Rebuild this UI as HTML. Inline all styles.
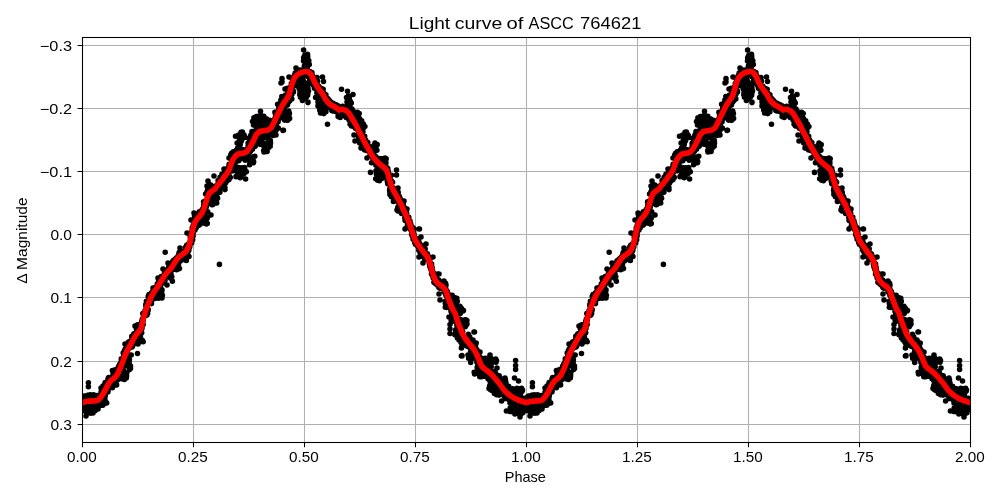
<!DOCTYPE html>
<html><head><meta charset="utf-8"><title>Light curve of ASCC 764621</title>
<style>
html,body{margin:0;padding:0;background:#fff;}
body{width:1000px;height:500px;overflow:hidden;}
svg{display:block;}
text{font-family:"Liberation Sans",sans-serif;fill:#000;}
#txt{opacity:0.999;}
</style></head><body>
<svg width="1000" height="500" viewBox="0 0 1000 500">
<rect width="1000" height="500" fill="#fff"/>
<defs><clipPath id="ax"><rect x="82.5" y="37.5" width="888.0" height="405.0"/></clipPath></defs>
<path d="M82.5 37.5V442.5M193.5 37.5V442.5M304.5 37.5V442.5M415.5 37.5V442.5M526.5 37.5V442.5M637.5 37.5V442.5M748.5 37.5V442.5M859.5 37.5V442.5M970.5 37.5V442.5M82.5 45.5H970.5M82.5 108.5H970.5M82.5 171.5H970.5M82.5 234.5H970.5M82.5 297.5H970.5M82.5 361.5H970.5M82.5 424.5H970.5" stroke="#b0b0b0" stroke-width="1.06" fill="none"/>
<g clip-path="url(#ax)">
<path d="M139.6 331.7h0M304.2 71.1h0M349.6 117.1h0M95.2 396.3h0M148.2 309.5h0M494.6 371.9h0M113.8 377.6h0M140.1 330.6h0M503.6 387.3h0M358.6 128.4h0M246.3 155.8h0M309.6 83.4h0M376.8 164h0M204.7 207h0M143.8 315.1h0M432.4 270h0M380.1 167.3h0M310 77.5h0M445.1 293h0M326.3 104.3h0M518 404.3h0M173.3 263.6h0M328.4 101.1h0M297.2 73.3h0M239.4 153.6h0M345.2 109.8h0M187 250.2h0M438.7 281.7h0M467.6 342h0M139.7 334.9h0M289.9 92.1h0M205.6 194.1h0M119.4 369.8h0M480.3 361.4h0M273.4 128h0M148.1 303.7h0M381.5 166.9h0M172.3 265.6h0M482.7 368.5h0M178.9 259.9h0M97.2 399.5h0M171.6 268.4h0M236 156.1h0M290.7 93h0M484.8 368.5h0M392.1 189.7h0M233.2 151.7h0M90 400.5h0M153.5 296.1h0M524.9 404h0M286.6 95.1h0M389.3 175.4h0M106.8 388.5h0M97.6 401.2h0M458.1 325.1h0M343.5 109.7h0M219.6 183.3h0M223.4 182.2h0M122.1 359.7h0M159.2 281.2h0M93.4 403.7h0M455.1 309.2h0M289.5 97.7h0M139 329h0M410.7 223.9h0M169.4 275.1h0M110 381.5h0M348.2 108h0M480.2 361.8h0M94.5 400.4h0M440 284.4h0M166.9 273.1h0M123.7 354.6h0M90.5 400.3h0M212.6 192.1h0M405.3 215.5h0M301.5 72.6h0M461.2 326.2h0M178.9 253.5h0M222.4 185.4h0M197.1 215.2h0M516.9 398h0M500.3 384.7h0M233.8 160.3h0M276.1 117.5h0M222.1 177.9h0M413.9 236.4h0M100.3 405.6h0M112.4 387.7h0M261.9 130.4h0M191.3 239.2h0M457.8 312.8h0M411.9 231.1h0M324.8 101h0M376.2 159.7h0M389.9 188.6h0M429.3 263.4h0M494.3 380.1h0M149 294.6h0M360.5 131.5h0M146.3 312.4h0M279.3 108.9h0M431.6 264.1h0M479.7 359h0M419.6 249.9h0M98.2 402.1h0M242.1 155.5h0M154.9 291.3h0M526 406.9h0M146.4 301.2h0M191 233.6h0M241.1 158.5h0M109.5 386.1h0M469 343.9h0M365 141.7h0M153.4 288.3h0M303.7 71.4h0M117.4 373.6h0M353.8 117.3h0M185.4 256.9h0M99.7 402.3h0M133.7 338h0M329 106.5h0M365.3 143.3h0M226.7 175.1h0M368.2 146.7h0M238.8 160.8h0M140.5 324.1h0M222.5 179.1h0M258 136.6h0M487.7 375h0M133.9 333.9h0M120.8 363.1h0M331.8 105.2h0M510.2 393.1h0M485.3 367h0M393.4 189.1h0M112.1 379.2h0M440.5 287h0M385.9 162.7h0M146.4 313.8h0M288.9 94.4h0M104.4 393.9h0M438.5 283.2h0M401.6 213.4h0M439.8 281.5h0M420.1 249.8h0M201.2 212.6h0M433.1 274.1h0M193.1 235.9h0M143.7 316.6h0M255.8 139.3h0M303.5 76.3h0M209.4 191.3h0M351.5 126h0M350 120.1h0M189 244.7h0M358.9 132.1h0M241.1 151.6h0M408.7 222.2h0M211.4 195.1h0M437.2 284.7h0M266.8 130.8h0M328.1 101.5h0M381.5 163.9h0M312.7 76h0M196.9 218.4h0M517.3 401.6h0M125.1 353h0M226.8 171.6h0M326.3 97.8h0M95.2 402.4h0M151.3 296.2h0M437.4 279.3h0M430.5 268.1h0M365.3 147.5h0M482.9 367.4h0M418 243.5h0M215.2 188.7h0M368.8 146.3h0M233.5 163.7h0M415.4 244.2h0M253.3 145.9h0M150.5 299.6h0M471.6 347.3h0M389 180.4h0M413.1 239.3h0M331 103.5h0M430.1 263.5h0M281.4 104.1h0M333.7 104.2h0M110.3 382.6h0M329 107.3h0M444.2 285.8h0M395.8 198.5h0M439.1 285.4h0M302.8 73.5h0M473.8 355.2h0M130.6 342.3h0M471.3 352.2h0M247.3 149.7h0M122.9 364.1h0M357.5 121.9h0M284.5 107h0M272.7 125h0M460.8 326.6h0M143.7 314.2h0M356.4 126.6h0M266.2 133.8h0M317 89h0M304.2 71.4h0M142.1 321.7h0M309.8 71.8h0M465.3 337h0M158.5 281.8h0M87.6 400.5h0M112.5 383h0M286.6 98.7h0M515.2 398.1h0M102.1 393.5h0M522.5 403.6h0M320.5 94h0M135.8 341h0M268.3 127.8h0M174.6 260.6h0M399.6 199.3h0M322.9 91.4h0M210.4 192.1h0M195.9 219.1h0M467.4 338.1h0M422.7 250.8h0M276.2 123.1h0M262.5 132.7h0M409.9 222.9h0M513.5 397.7h0M117.8 374.6h0M153.1 295.9h0M243.4 152.1h0M307.9 70.3h0M114.2 379.2h0M106.2 385.1h0M179.9 255.4h0M253.9 138.3h0M410.7 229.8h0M353.3 118.4h0M95.5 401.1h0M102.5 394h0M283.2 101.5h0M470.9 348.7h0M488.8 370.3h0M244.6 154h0M476.5 355.2h0M495 371.2h0M263 126.7h0M413.8 228.7h0M244.7 153.4h0M150.7 299.2h0M337.9 108.1h0M120.9 364.3h0M377 160.6h0M441.8 284.9h0M488.9 371.9h0M281.4 106.8h0M134.6 334.6h0M483.2 373.9h0M468.9 346.8h0M512.1 395.5h0M346.2 117.4h0M381.5 171.3h0M248.2 154.5h0M163.8 280.9h0M212 189.5h0M402.5 206.4h0M226.8 168.7h0M389.6 177.9h0M305.5 74.4h0M281.9 104.3h0M512.1 391.8h0M156.2 294.7h0M298.8 81.1h0M153.4 299h0M498.7 376.4h0M299.4 76.2h0M229.9 164.6h0M157.2 287h0M346.3 112.8h0M259.6 136.3h0M139 329.2h0M96.9 399.5h0M256.2 129.5h0M341.4 109.3h0M312.9 76.4h0M482.1 364.3h0M487.3 373.6h0M498.2 381.9h0M437.6 283.2h0M294.6 79.4h0M315.1 87.6h0M258.9 136.5h0M259.9 128.1h0M101 392.3h0M437.2 283.6h0M191.7 237.6h0M95.5 404.8h0M289.6 98.2h0M401.2 210.6h0M276.1 120.6h0M244.2 151.1h0M374.9 162h0M154.8 288.6h0M87.5 399.8h0M345.5 111.5h0M318 87.1h0M466.9 344.2h0M267.1 129.1h0M431.5 274.1h0M90.5 398.8h0M94.6 402.8h0M348.3 111.1h0M183 258h0M112.4 378.1h0M139.2 335.2h0M248.9 138.4h0M232.2 158.3h0M332.8 110.9h0M476.6 355.1h0M244.9 152.8h0M164.3 279.2h0M339.1 116.3h0M83.5 399.8h0M253.4 140.4h0M223.4 176.9h0M254.5 141.7h0M105.1 388.3h0M328.6 99.8h0M359.6 126.5h0M415.3 241.9h0M507.6 394.3h0M240 156h0M373.9 153.1h0M278.8 108h0M178 257h0M477.3 360.2h0M413.7 237.3h0M501.1 385.2h0M447.3 291.6h0M489.9 373.6h0M139.4 329.5h0M89.5 403.7h0M170.7 274.6h0M265.5 130.7h0M387.8 168.6h0M277.2 129.1h0M310.4 76.9h0M420.4 248.9h0M113.8 378.8h0M383.7 167.8h0M104.1 392.4h0M192.9 230.1h0M403.2 204.4h0M385.8 166.5h0M262.4 130.7h0M213.3 190.7h0M450.2 304.2h0M204.5 209.7h0M96.4 396.2h0M192.3 227.8h0M91.9 399.5h0M442.4 287h0M136.8 333.5h0M514.9 405.2h0M177.1 258.2h0M218.4 183.9h0M342.3 106.6h0M219.3 190.8h0M250.9 145.9h0M128.8 347.4h0M255.2 133.9h0M93.7 401.2h0M181.9 254.1h0M486.3 374.8h0M207.2 195.2h0M202.8 209.8h0M384.1 165.9h0M474.5 353.2h0M213.9 191h0M249.6 152.2h0M399.8 204.2h0M434.2 279.3h0M355 123.5h0M162 283.2h0M162.7 280.4h0M419 246.6h0M396.3 189.3h0M480.4 361.5h0M428.7 257.8h0M269.5 123.3h0M141.7 332.8h0M477.9 364.4h0M391.3 190.2h0M338.4 111h0M385.2 174.2h0M253.5 132.5h0M234.9 162.3h0M338 105.9h0M296.8 76h0M397.3 197.7h0M498.1 384.5h0M458.7 328h0M254.5 141.7h0M247.9 147.7h0M494 374.7h0M257.7 130.2h0M437.8 283.5h0M123.7 357.9h0M282.8 97.7h0M311.7 80.9h0M441.6 284h0M472.2 345.2h0M150.3 297h0M356.5 123.1h0M361.8 139h0M149.8 298.2h0M452.6 301.8h0M328.2 101.3h0M509.5 391.8h0M165.2 271.6h0M315.6 89.1h0M226.1 180.3h0M367.8 142.5h0M352.5 125.9h0M310 81.8h0M226.7 169.5h0M306.3 72.8h0M247.8 149.4h0M478 361.5h0M287.4 88.3h0M293.5 84.6h0M197.3 217.6h0M195.2 224.5h0M506 395.8h0M221.9 174.4h0M468 341.9h0M346.6 110.9h0M517.9 401.9h0M155.3 294.4h0M500.6 388.8h0M425.5 252.7h0M334.7 109h0M397.2 194.2h0M403.3 212.1h0M281.6 106h0M364.2 140.7h0M184 253.6h0M92 397.5h0M382.9 165.7h0M293.2 78.1h0M484.6 372.7h0M199.7 222.4h0M445.7 286.4h0M520.4 394.9h0M481.2 366.4h0M510.7 394.2h0M153.1 291h0M155.8 298.1h0M183.9 252.5h0M243 150.4h0M133.7 338h0M149.4 302.4h0M90.7 405.5h0M496.9 382h0M242.8 149.9h0M360.5 132.1h0M284.3 111.7h0M412.4 227.2h0M440.4 285h0M252.5 148.3h0M320.2 92h0M125.8 353h0M209.3 190.7h0M181.4 255.5h0M219.5 185.2h0M226.6 175.1h0M337.8 111.7h0M230.2 167.6h0M227.6 179.3h0M451.6 307.6h0M87.9 403.9h0M84.8 401.1h0M107.9 392h0M466.8 345.5h0M363.9 143.4h0M405.7 211.7h0M507.7 394.4h0M179.3 252.2h0M491 372.7h0M190.2 242.1h0M312.9 76.7h0M384.9 169h0M436.5 283.3h0M192.7 239.8h0M294.3 78.5h0M102.7 389.8h0M210.3 185.8h0M518 399.6h0M484.4 372.6h0M340.9 112.3h0M431.7 270h0M483.1 365h0M229.8 165.3h0M517.8 399.6h0M281.6 107.2h0M153.1 296h0M317.9 88.2h0M346.1 116.9h0M390.1 182.5h0M380.4 165.9h0M100.9 401.3h0M366.2 148.8h0M491.7 372.5h0M380 160.4h0M515.5 395.1h0M309.6 74.8h0M442.2 287.7h0M144.8 315.5h0M480.1 366.8h0M276.3 124.9h0M471.7 343.8h0M224.9 187.6h0M359.7 143.1h0M458.4 327.9h0M398.3 198.6h0M357.7 129.7h0M513.5 393.7h0M121.6 364.9h0M127.8 346.7h0M327.4 101.6h0M506.4 391.4h0M387.3 181.2h0M220 180.5h0M130.3 346.5h0M281.5 105.2h0M295.7 85.5h0M290.4 97.7h0M357.5 122.1h0M203.6 205.8h0M473.4 350h0M210.5 190.6h0M130 347.7h0M237.4 154.8h0M498 377.6h0M153.3 292.4h0M205.8 205.8h0M493.9 376.9h0M237 155.3h0M456.8 321.3h0M102.7 394.2h0M477 362.1h0M187.9 244.5h0M162.7 280.5h0M412.1 229.8h0M521.8 402.6h0M508.4 397.6h0M416.5 244h0M488.4 374.5h0M520.8 403.5h0M327.9 104.6h0M146.7 307.3h0M459.6 331.1h0M258.3 136.2h0M221.3 184.6h0M304.9 72.6h0M98 401.1h0M90.8 396.7h0M199.9 213.9h0M347.1 111h0M415.2 242.9h0M507.5 398.4h0M445.8 291.1h0M500.4 380.5h0M365 145h0M408.4 223.5h0M343.3 111.7h0M118.7 369.5h0M110 379.2h0M420 245.4h0M172.3 264.3h0M433.2 277.9h0M288.5 98.1h0M85.6 407.8h0M331.8 110.6h0M279.2 117.3h0M115.3 375.4h0M198.4 221h0M218.6 186h0M236 151h0M396.3 190.7h0M156.8 286.4h0M279.3 118.4h0M351.9 116.7h0M502.7 382.8h0M133.6 339.6h0M117.7 376.3h0M167.6 269.6h0M180.4 261.1h0M154.8 289.1h0M116.2 380.2h0M175.5 263.7h0M181.7 253.7h0M295.4 76.6h0M370.1 152h0M244.1 152h0M157.2 290.3h0M124.5 357.2h0M199.3 211.7h0M158.3 286h0M296.1 74h0M469.3 342.7h0M400.6 204.4h0M172.7 265.6h0M98.4 403.4h0M112.5 379.2h0M276 115.4h0M243.9 157.7h0M385.5 171.8h0M119.7 368.7h0M195.5 221.4h0M387 169.6h0M334.7 107.2h0M311.9 74.6h0M482.8 375.4h0M132.8 345.8h0M169.3 265.8h0M333.6 104.6h0M333.5 106.2h0M517.7 398.1h0M516.5 393.3h0M343.2 111.4h0M419.4 243.8h0M392.2 190.8h0M141.5 329.2h0M349.9 121h0M218.3 182.5h0M241.9 158.2h0M151.9 292.5h0M86.2 405.8h0M461.5 337.3h0M400.9 205.5h0M416.5 239.2h0M210.4 199.8h0M267.8 132.4h0M160.7 278.2h0M349.9 105.4h0M455.1 310h0M428.3 256.3h0M497.1 384.2h0M198.1 218.6h0M393.9 192.7h0M138.8 330h0M320.6 95.7h0M131.5 341.1h0M322.4 90.1h0M323.2 89.2h0M236.5 157h0M237.7 152.4h0M398.2 192.2h0M296.1 74.5h0M263.5 129.8h0M132.5 344h0M207.8 188.9h0M458.6 322.1h0M514.1 400.6h0M248.2 151.8h0M469.1 346.5h0M470.4 352.6h0M179.3 255.2h0M204.1 206h0M391.5 190.9h0M218.4 191h0M506.7 394.2h0M244.6 151.9h0M406.7 213.6h0M396.5 198.5h0M177.4 259.9h0M467 336.9h0M228.5 169.3h0M131.4 340.1h0M104.8 393.6h0M283.1 103.8h0M363.5 145.1h0M203 219.2h0M456.3 319.5h0M201.3 220.7h0M458.8 330.7h0M97.2 405.4h0M199.1 215.7h0M153.3 295.9h0M281.3 117.4h0M238.3 156.1h0M257.8 131.9h0M460.6 330.8h0M339.8 116.1h0M351.3 115.9h0M255.7 133.4h0M441.3 287.5h0M305.3 71.3h0M413.7 231.8h0M488.4 366.7h0M354.2 122.4h0M275.7 115.9h0M199.5 224.1h0M487.4 369.2h0M422.1 247.5h0M437.5 281.5h0M180.8 253.6h0M276.4 124.4h0M474.8 348h0M191.7 242.9h0M443.9 289.4h0M321.7 102.5h0M179.6 256.4h0M249.2 152.5h0M116.3 370.3h0M381.3 164.5h0M405.3 211.6h0M95.4 404.5h0M216.3 187.1h0M423.8 254.1h0M171.5 266.5h0M320.9 88.8h0M440.3 285.1h0M335.6 111.4h0M136.8 334.3h0M486.2 376.5h0M414 236.3h0M333.3 105.7h0M230.3 165.4h0M341 109h0M256.3 132.3h0M135.2 335.8h0M136.7 332h0M102.6 391.8h0M158.1 292h0M191.5 240.3h0M364.6 141.4h0M340.1 108.9h0M344.7 107h0M447.5 298.6h0M124.7 354.1h0M255.2 146.3h0M117.7 368.6h0M268.4 131.1h0M117.5 379.9h0M112 378.8h0M128.8 358.4h0M255.6 140.9h0M421.3 251.3h0M207.7 194h0M411.9 233.9h0M186.1 256.1h0M210 193.8h0M291.8 98.9h0M115.8 378.3h0M281.8 96.6h0M341.6 110.6h0M448.6 307h0M107.4 384.4h0M437.7 284.9h0M335.4 106.5h0M339.3 110.4h0M105.2 382.6h0M473.2 341.7h0M205.6 202.6h0M325.1 97.6h0M321.6 88.5h0M486.6 373.4h0M349.5 116h0M522.7 399.7h0M185.6 247.3h0M376.5 162.9h0M338.6 108.9h0M310.5 78h0M361.2 140.3h0M327 100.5h0M232.1 161h0M367.4 150.3h0M119.5 369h0M295.2 73.1h0M283.6 106.9h0M177.2 260h0M334.7 106h0M379.9 165.7h0M138 331.3h0M214.4 188.6h0M110 384.8h0M347.6 108h0M118.8 366.1h0M184.4 252.6h0M281.4 101.3h0M283.1 108.8h0M97.1 398.5h0M503.1 381.9h0M184.6 251.9h0M353.3 111.4h0M181.2 259h0M347 111.4h0M239.1 155.8h0M224 179.4h0M293.1 82.6h0M342.8 107.6h0M348.1 115.4h0M388.2 173.4h0M201.8 210.6h0M123.2 353.1h0M195 230h0M227.6 171.8h0M352.2 117h0M266.5 125.4h0M220.7 185.6h0M126.2 352.6h0M347.4 115.4h0M131.3 343h0M312 75h0M388.1 177.1h0M359.2 125.5h0M153.4 289h0M240.5 153.4h0M500.3 388.5h0M122.8 367.6h0M383.9 167.2h0M276.3 116.9h0M354.9 124h0M257.3 132.9h0M137.5 331.5h0M332.2 107.2h0M85.2 400.6h0M466.1 338.7h0M437.1 285.1h0M248.4 150.4h0M321.1 90.7h0M316.7 89.7h0M517.5 399.4h0M101.9 398.5h0M214.7 187.4h0M263.2 128.9h0M432.1 267.2h0M406.6 220h0M270.5 133.8h0M87.7 404.8h0M370.2 153.4h0M263.1 131.4h0M134.4 337h0M362.7 140.7h0M280 109.1h0M218.5 181.8h0M202 218.6h0M313.7 85.5h0M192.5 233.2h0M257.1 133.6h0M500.7 383.9h0M294.6 78.3h0M195 223.2h0M313.9 78.3h0M489.8 371.3h0M467.1 337h0M383.2 170h0M481.7 360.3h0M418.4 242.2h0M384.5 165h0M272.6 125.9h0M148.8 299.7h0M407.5 223.8h0M364.1 144h0M512.2 389.7h0M225 176.8h0M471.8 347.9h0M179.5 254.3h0M502.6 387.7h0M524.6 402.3h0M103.4 391.3h0M226.6 173.6h0M525.7 403.3h0M512.4 395.5h0M380.3 164.3h0M142.2 319.5h0M85.4 403.4h0M193.2 225.4h0M501.8 392.7h0M439.9 288.3h0M272.8 132.6h0M420.5 246.9h0M483.1 369.4h0M215.7 187.5h0M470.7 346.9h0M202.2 209.6h0M228.4 167.5h0M102.4 394.8h0M153.6 290.6h0M327.1 106.1h0M93.1 403h0M324.8 99.5h0M158 285.9h0M414.9 238.8h0M139.3 336.2h0M174.4 263.3h0M201.9 213h0M341.2 114.2h0M441.5 286.1h0M416.9 242.2h0M411.6 229.1h0M385.2 173.3h0M323.7 94.8h0M234.6 155.3h0M162.4 283.1h0M466 344.3h0M264.2 134.3h0M371.2 150.9h0M112.8 380.6h0M242.7 151.7h0M127.1 353.1h0M239.9 149.4h0M408.1 219.3h0M234 163.3h0M385.4 169.6h0M137.2 325.9h0M253.4 145.6h0M264.6 131.5h0M308.5 71.7h0M183.9 253.2h0M392.7 187.5h0M474.2 355.2h0M443.3 287.3h0M96.2 396.8h0M299.2 72.5h0M235.2 163.1h0M336.8 111.3h0M119.5 373.9h0M406.5 214h0M267.5 131.6h0M501.6 391.6h0M91 401.3h0M268 132.2h0M298.6 78.4h0M451.5 312.2h0M418.3 246h0M163.3 279.4h0M219.1 180.5h0M409.2 221.7h0M268.8 132.1h0M199.3 225.1h0M495.7 380.1h0M456.9 325.2h0M240.3 153.7h0M326.5 98.4h0M495.1 380.5h0M178.7 258.8h0M486.2 367h0M475.2 347.9h0M405.1 213.3h0M387.1 169.5h0M386.7 172.6h0M324.1 93.6h0M341 111.5h0M170.1 268.2h0M332.3 106.8h0M381.3 161.6h0M298.1 78.2h0M384.1 168.3h0M285.9 112.8h0M439.2 281.4h0M402.6 201.7h0M122 367.3h0M424.1 254.7h0M209 188.5h0M118.7 374.3h0M136.3 338.6h0M226.4 181.5h0M315.4 84.6h0M229.1 164.4h0M172.8 261.7h0M424 257.2h0M248.5 151.2h0M470.5 348.8h0M191.1 236.2h0M388.8 176.3h0M241.2 153h0M459.8 322.5h0M369.5 149.9h0M383.8 163.9h0M123.7 357.6h0M416.1 244.5h0M239.9 153.8h0M411.1 226.5h0M457.8 331.5h0M136.8 339.7h0M89.3 401.4h0M419 242h0M512.5 401.8h0M482.3 372.9h0M275.9 115.4h0M452.6 317.2h0M92.9 399.2h0M108.5 383.3h0M340.7 108.7h0M316.7 86.9h0M448.7 298.9h0M186.2 257.4h0M287.9 95.8h0M521.8 402.7h0M216.9 186.6h0M262.1 131.7h0M352.2 115.5h0M524.3 402h0M163.6 282.1h0M389.3 182.7h0M266.4 127.4h0M260.4 130.4h0M196.5 216.4h0M289.1 92.5h0M337.7 107.9h0M256.7 129.6h0M307 73.3h0M364.9 146.3h0M460.7 330.2h0M331.6 104.5h0M252.4 143.7h0M509.4 392.6h0M159.1 288.4h0M102.7 404.4h0M485.8 361h0M200.5 217.2h0M149.8 300.6h0M253.6 141.5h0M234.7 156.1h0M240 149.7h0M460.4 328.3h0M211.5 190.5h0M141.4 326.8h0M178.3 257.7h0M504.2 388.3h0M272.9 135.4h0M242.7 150h0M427.7 256.3h0M497.9 376.7h0M309 72.3h0M444.2 291.8h0M200 216h0M238.1 151.6h0M338.4 107.3h0M187.5 251.8h0M204.7 203.8h0M165.8 276.2h0M199 215h0M455.2 310.9h0M435.4 280.1h0M133.1 335.2h0M237.4 158.3h0M403.2 205.6h0M464.2 337.5h0M331.2 106.6h0M405.1 220.5h0M187.9 250.6h0M429.6 264.4h0M447 292.5h0M263.2 130.5h0M187.2 249.4h0M97.2 403.8h0M362 133.2h0M363.3 141.3h0M83 409.6h0M313.4 77.7h0M499.2 375.8h0M95.3 399.6h0M143.5 317.6h0M108.1 391.1h0M276.3 120.2h0M253.3 146.6h0M468.9 340.6h0M112 379.7h0M171.5 268.7h0M499 379.6h0M90.9 401.9h0M197.6 217.6h0M257.5 134.3h0M82.8 399.4h0M210 186.8h0M350.2 121h0M355.7 124.7h0M352.8 119.4h0M371.5 162.8h0M355.3 128.2h0M97.8 401.7h0M373.2 155.1h0M341.7 110.5h0M179.2 257.6h0M268.8 128.9h0M188 255.5h0M467.9 345h0M206.3 204.8h0M154.8 289h0M436.2 279.8h0M420.4 250.3h0M460.9 331.3h0M383.2 165.5h0M267.6 131.2h0M293.6 80.6h0M329 102.6h0M347.1 111.2h0M502.2 391.4h0M200.3 217.5h0M423.7 250.6h0M90 399.6h0M167 273.9h0M501.8 383.1h0M194 226.2h0M309.4 72.8h0M489.4 368.4h0M373.1 149.6h0M299.4 72.5h0M394.1 191.9h0M516.9 399.6h0M500.4 391.3h0M163 278.4h0M144.7 314h0M210.3 194.3h0M146.9 306.1h0M421.7 253.2h0M452.7 306.6h0M145 310.7h0M115 376.4h0M226.2 180.7h0M387.5 170.4h0M424.5 251.7h0M287 102.5h0M366.2 149.7h0M489.9 371.6h0M473.3 351.7h0M134.8 335.2h0M399.2 206.2h0M427.3 253.8h0M485.3 368.6h0M268.1 128.8h0M151.8 293.5h0M292.9 81.5h0M246.9 154h0M257.3 130.6h0M438.9 287.5h0M371.9 155.9h0M384.5 169.2h0M372.3 153.1h0M145.4 311.6h0M108.4 387.5h0M257.9 129.5h0M459.8 323.7h0M370.5 149.9h0M433.9 273.1h0M358.9 133.7h0M430.7 263.4h0M524.8 406.9h0M399.2 196.2h0M465.1 336.8h0M514.5 398.4h0M411.3 226.1h0M443.5 283h0M117.4 372.3h0M98.7 399.6h0M492.5 372.1h0M188 249.3h0M218.1 180.5h0M142.5 323.3h0M364.2 149.4h0M95.7 403.6h0M437.3 284.8h0M215 188.3h0M412.8 232.1h0M486.9 374.8h0M389 176.6h0M271 130.6h0M360 129.3h0M462.2 335.4h0M398.3 199.8h0M194.5 215.6h0M85.9 401.3h0M473.1 350.7h0M359.3 134.1h0M110.7 382.2h0M327.1 106.4h0M344 109.7h0M212.8 188.8h0M475.9 357.4h0M189 256.5h0M146.4 307.9h0M219.8 188.9h0M232.7 159.4h0M475 344.9h0M374.2 155.7h0M136.6 331.7h0M257.3 138.2h0M128.1 349.4h0M395.8 192.5h0M462.1 333.6h0M124 365.6h0M304.5 71.7h0M191.1 234.6h0M209.1 195.8h0M414.1 234.6h0M516.3 400.8h0M206.3 206.9h0M323.4 96.1h0M220.3 181.1h0M110.1 382.1h0M350 109.8h0M151.5 303.6h0M387.8 183.8h0M414.3 237.6h0M145.7 304.9h0M347.2 109.7h0M175 259.3h0M421.3 245.2h0M209.5 192.7h0M388.7 176h0M370.2 149.9h0M337.9 112h0M179.1 257h0M452.9 304.9h0M240 154.8h0M424.6 250.7h0M293.4 79.6h0M281.4 103.3h0M398.7 201.1h0M233.8 157.2h0M421.5 248.1h0M280 111.3h0M411.3 230.3h0M392.2 189h0M502.2 392.8h0M263.9 128.2h0M237.5 155.7h0M524.2 406.8h0M311.8 76.1h0M268.3 123.6h0M393.6 195h0M193.6 225.6h0M507.7 396.2h0M417.2 244h0M370.7 155h0M212.1 195.8h0M441.8 286.4h0M490.6 376.9h0M433.9 273.1h0M487.6 368h0M123.4 359.4h0M411.6 234.4h0M467.1 337.9h0M293.9 78.3h0M118.1 375.9h0M323.4 94.1h0M190.2 237.1h0M97 395.5h0M498 385.6h0M452 302.1h0M364.2 142.7h0M414.8 240.5h0M380.6 162.4h0M288 99.8h0M136.3 328.6h0M210.7 191.7h0M307.2 70.6h0M340.9 109.9h0M216.4 187.8h0M139 332.4h0M234.5 160.2h0M164.9 273.8h0M495.7 373.5h0M180.6 253.5h0M257.5 137.3h0M323.1 92.2h0M194.5 222.2h0M302.2 73.4h0M327.9 102h0M104.3 388.8h0M503.2 380.5h0M321.4 96.6h0M147.3 304.4h0M518.7 395.8h0M157.2 286h0M405.5 214.2h0M296.7 72.1h0M196.9 220.1h0M251.1 145.2h0M296.2 78.3h0M247.2 151.3h0M192.2 228.2h0M267.2 125.8h0M276 117h0M387.9 171.3h0M170.2 274.3h0M102.7 393.6h0M452.7 311.5h0M113.3 378.9h0M362.9 131.8h0M326.2 103.2h0M515.4 397.4h0M166.8 270h0M476.6 356.3h0M140.4 336h0M158.6 284.9h0M372.8 155.4h0M156.1 287.5h0M342.9 108.7h0M382.2 168.9h0M138.2 332.6h0M433.3 276.6h0M270.4 130.5h0M511.9 388.9h0M87.6 401.7h0M117.4 376.6h0M357.8 129.6h0M196.7 214.4h0M261.3 129.1h0M486 372.4h0M235.2 158.1h0M105.3 391.8h0M146 306.6h0M329.2 104.3h0M426.5 259.5h0M419 245.8h0M291.9 94.2h0M188.9 250h0M139.6 335.1h0M181.6 253.8h0M171.5 266.4h0M485.4 367.1h0M263.5 133.6h0M134.3 342.7h0M365.8 140.4h0M285.5 95.1h0M95.4 401h0M517.5 404h0M502.7 389.3h0M199.1 219.9h0M452.3 311h0M284.6 104.8h0M381.6 165.2h0M372.6 157.5h0M407.5 220.4h0M278.1 113.2h0M147.6 313.4h0M439.6 282.7h0M278 111.9h0M278.8 108.2h0M419.6 248.9h0M386.8 175.3h0M521.6 399.3h0M254.7 138.1h0M364.4 140h0M119.7 364.4h0M132.5 338.6h0M195.6 223h0M206.8 202.5h0M280.6 105.3h0M184.1 253h0M498.1 385.8h0M272.5 131.3h0M252.3 144.6h0M483 364.1h0M435.8 276.7h0M424.5 253.4h0M488.4 370.5h0M409.5 221.9h0M218.2 183h0M509.3 393.1h0M94.6 401.2h0M480.8 367.5h0M268.7 127.1h0M232.4 170.3h0M293.2 90.8h0M260 130.8h0M464.5 338.6h0M440.4 287.6h0M414 234.2h0M185.8 250.2h0M277.8 111.2h0M115.8 373.8h0M412.2 233.5h0M101.2 396h0M258.3 132.8h0M149.6 301h0M460.8 328.5h0M490.3 379.4h0M211 191.3h0M469.8 341.1h0M161.5 277.5h0M398.2 196.3h0M193.8 226.6h0M280.3 110.2h0M353.8 122.5h0M238.4 152.7h0M170.3 270.5h0M343.5 110.8h0M435 276h0M524.6 403.2h0M225.6 177.1h0M196.9 218.4h0M116.4 380h0M173.4 264.9h0M94 399.2h0M193.4 232.3h0M404.8 218.1h0M133.4 336h0M369.5 150.6h0M213.4 193.2h0M184.1 254.9h0M297.2 79.4h0M276.2 124.9h0M280.9 100.1h0M134.7 339.7h0M333.2 103.3h0M483 363.7h0M86.6 399h0M118.5 374.3h0M342.7 106.4h0M223.9 177.5h0M194.4 218.6h0M521.2 407.2h0M219.3 182h0M491.4 374.3h0M356.4 121.1h0M95.9 399.3h0M200.6 221.7h0M116.1 377h0M321.3 89.5h0M485.8 368h0M105.9 388.3h0M94.9 405.8h0M95.5 400.4h0M203.7 211.5h0M156.3 292.6h0M512.4 405.4h0M426.6 257.6h0M499.5 379.4h0M340 108.1h0M447.1 300.6h0M397.2 198.7h0M212.2 186.4h0M372.3 153.9h0M210.9 190.6h0M288.6 94.6h0M447.8 299.2h0M180.5 257.5h0M160.2 287.6h0M460.6 319.5h0M288.2 98.4h0M159.7 283h0M223.6 174.9h0M207.1 203.4h0M480.4 357.6h0M292.4 79.5h0M491.1 380.8h0M291.3 89.6h0M499.6 387.8h0M489.4 377.8h0M334.5 104.6h0M431.6 273.3h0M210 193.1h0M133.8 340.9h0M350.8 119.5h0M107 389.1h0M290.1 90.2h0M357.8 128.6h0M423.3 252.1h0M480.6 369.1h0M173.1 260.7h0M466.8 346.1h0M302.9 71.1h0M359 140.1h0M287.6 100.7h0M458.9 334.6h0M215.7 187.5h0M86.1 406.4h0M450.7 306.7h0M376.3 161.9h0M400.6 205.2h0M137.6 324.7h0M174 260.8h0M360.2 127.1h0M414.2 237.7h0M376.1 160h0M347.1 114.3h0M373.2 158.2h0M148.1 310.2h0M282.6 101.9h0M228.8 172.2h0M409.4 221.7h0M312.2 74.9h0M402.2 200.8h0M391 184.1h0M484.4 365.4h0M462.7 331.7h0M105.4 386.8h0M379 160.7h0M248.3 159.9h0M127.3 350.7h0M294.9 74.6h0M456.9 318.1h0M436.1 281.2h0M129.5 341.5h0M172.3 269.9h0M391.1 180.6h0M512.4 398.8h0M116.8 373.9h0M121.9 360.7h0M391.4 196.8h0M356 122.4h0M442.6 283.7h0M170.5 267.9h0M301.9 71.2h0M438.1 285.6h0M252.3 144.9h0M259.9 128h0M97.1 405.9h0M436.7 281.3h0M280.8 102.1h0M250.3 151.4h0M373.5 159.4h0M461.2 325.2h0M467.1 336.5h0M234.5 156.5h0M352.6 116.4h0M254.5 140.7h0M454.9 314.2h0M434.8 275.4h0M376.3 157.7h0M448.1 296.6h0M308.9 77.3h0M336 106.6h0M154.7 293.1h0M396.8 193.7h0M210.4 194h0M331.9 104.4h0M83.4 403.3h0M259 128.8h0M355.9 121.6h0M362.5 145.5h0M332.8 108.5h0M194.4 219.1h0M373 160.3h0M376.1 159.9h0M344.4 113.5h0M249.9 141h0M150 299.2h0M329.6 102.9h0M105.5 387.2h0M489.3 368.3h0M239.1 159.2h0M208.1 195.5h0M282.6 103.3h0M128.6 342.1h0M475.1 356.6h0M517.4 403.3h0M448 296.5h0M337.3 106.3h0M500.2 387.2h0M229.2 169.3h0M289 90.6h0M158.7 292.7h0M271.1 130.6h0M494.4 373.6h0M377 159.2h0M324.8 101.3h0M320.5 96.5h0M364.5 144h0M353.3 122.6h0M283.4 101.9h0M309.3 81.5h0M127.5 348.9h0M279.4 112.4h0M382.1 166.9h0M181.7 254.4h0M205.5 208.5h0M439.8 287.4h0M142.8 313.5h0M169.3 269.8h0M445.9 294.7h0M136.2 340.6h0M215.9 186.7h0M486.7 372.9h0M265.8 130.9h0M445.5 290.6h0M422 248.7h0M91.4 403.9h0M180 259.4h0M487.4 377.2h0M225.2 176.9h0M261.8 131.4h0M497.5 386.9h0M131.2 355.1h0M513.9 397.3h0M369.6 150.9h0M361.6 143.3h0M82.9 399.9h0M362.5 128.1h0M447.5 300h0M257.5 139h0M115 382.5h0M141.1 333.2h0M116.9 379.9h0M266.8 128.5h0M445.3 292.8h0M108.6 381.2h0M262.7 127.1h0M260.5 130.9h0M259.2 127.8h0M316.4 82.8h0M320.2 89.2h0M173.1 264.4h0M435.2 280.4h0M312.1 74.8h0M238.8 152.2h0M510.6 395.4h0M395.9 195.5h0M154.9 292.6h0M512.8 400.1h0M339.2 110.7h0M233.6 161h0M187.9 251.7h0M112.6 379.3h0M190.8 239.6h0M210.8 189.5h0M235.3 157.3h0M521.2 404.2h0M345.5 108.9h0M167.8 276.1h0M247 149.7h0M274.5 127h0M119.4 378.7h0M290.5 91.4h0M308.2 71.5h0M486.4 371.9h0M274.9 118.6h0M388.3 171.2h0M384.3 171.3h0M160.2 278.5h0M334.3 109.5h0M281.9 102.8h0M154.7 294.7h0M93.1 399.8h0M524.7 407.4h0M122.7 360h0M476.2 343h0M245.2 160.3h0M118.8 371.7h0M510.8 395.6h0M375.7 160.1h0M262.1 130.2h0M454.6 314h0M396.7 193.3h0M267 136.3h0M401.2 202.1h0M410.1 227.2h0M159 289.7h0M400.6 202.7h0M489.5 376.1h0M387.8 171.2h0M437.4 280.7h0M522 399.4h0M436.1 284h0M291.1 95.2h0M332.1 103.9h0M423 253.4h0M363.3 136h0M114 378.9h0M109.2 385.4h0M203.6 201.9h0M445.8 292.6h0M180.9 254.9h0M224.1 173h0M448 300h0M139.7 332.3h0M206.7 201.7h0M196.4 219.1h0M103.5 391.1h0M412.2 227.8h0M224.9 175.3h0M263.5 128.1h0M230.4 164.4h0M111.7 381.3h0M457.6 325.7h0M142.2 325.5h0M209.3 194.9h0M402.5 206.8h0M237.2 157.7h0M307.5 75.8h0M229.1 167.9h0M331.2 104.3h0M223.4 175.5h0M285.2 99.7h0M86.4 400.4h0M89.2 406.7h0M307.6 76.5h0M445.3 286.3h0M525.9 404.5h0M439.1 283.8h0M315.3 79.8h0M368.6 150.1h0M380.6 163.1h0M406.5 217.1h0M522.9 403.2h0M235.1 154.1h0M280.7 116.4h0M428.4 259.3h0M178.4 256.1h0M125.1 349.2h0M481.6 376.7h0M89.6 399.3h0M479.4 361.1h0M488.7 373h0M156 292.4h0M417.8 240.7h0M210.7 185.3h0M202.9 211.6h0M519.2 396.3h0M476.3 352.2h0M421.9 254h0M276.1 114.6h0M520.2 402.8h0M335.8 105.7h0M517.6 408.4h0M402.8 207h0M103.3 395.1h0M436.9 281.8h0M454.6 309h0M473.7 353.7h0M358.7 129.7h0M99.2 396.4h0M467.7 339.5h0M269.9 127.6h0M169.8 269.9h0M175.1 262.4h0M172 265.1h0M444.6 287.6h0M114.8 385h0M490.2 372.1h0M90 404.8h0M403.5 208.2h0M184.9 253.4h0M311.1 73.4h0M161.2 276.5h0M482 363.6h0M151.7 299.6h0M289.8 100.7h0M352.7 123.8h0M283.7 100.4h0M178.5 256.7h0M211.3 188.3h0M497.4 382h0M138.1 336h0M90.3 401.4h0M486 366.9h0M476 354.5h0M386.7 170.5h0M292.1 86.8h0M505.2 390h0M265.9 130.6h0M88.3 399.4h0M275.7 113.8h0M317.5 81.1h0M325.9 100.2h0M476.8 355.1h0M112.6 376.8h0M461.7 340h0M314.4 88.3h0M407.6 223.6h0M266.2 129.8h0M214 188.9h0M231.6 164.1h0M204.4 212.5h0M283.9 110.2h0M347.9 109.1h0M451.4 305.3h0M159.9 278.4h0M282.3 104h0M318.7 92.9h0M445.8 292.5h0M397.8 207.4h0M359.2 134.3h0M381.9 164.6h0M281.5 103.3h0M440.6 285.6h0M454.3 320.9h0M333.9 104.1h0M134.5 334.6h0M271.7 126.8h0M200 214.8h0M167.7 274.7h0M214.2 188.4h0M446.3 291.9h0M236.9 154.7h0M273.3 124.7h0M252.5 149.3h0M164.5 273h0M336.2 104.9h0M267.5 125.9h0M498.3 380.8h0M357.1 127.4h0M516.7 401h0M463.8 337.4h0M300.4 73.1h0M89.8 397h0M177 257.6h0M135.5 337.4h0M410 221.1h0M143.7 315.7h0M368.9 148.1h0M225.7 177.2h0M295.9 74.5h0M418.5 241h0M215 188.1h0M158.7 284.2h0M210.4 195.9h0M501.5 383.8h0M328 101.8h0M210 190.9h0M147.2 304.9h0M112.8 386.1h0M230.8 154.7h0M355.1 125.7h0M285.3 97.2h0M443.1 287.3h0M524.1 398.2h0M335.7 107.9h0M235.7 152.8h0M435.4 281.6h0M121.9 370.8h0M419.7 244h0M474 342.5h0M427.1 259.6h0M126.3 362.8h0M340.5 109.4h0M438.7 280h0M265.2 126.5h0M457.3 325.3h0M156.2 295.3h0M317.3 86.2h0M330.3 101.8h0M432.5 275.8h0M265.4 126.9h0M197.2 216.5h0M398.7 197.2h0M133.2 337.6h0M245.8 153.7h0M290.3 87.7h0M432.3 272.2h0M271.1 132h0M332.1 108.8h0M383.7 171.2h0M382.4 165.1h0M510.3 390.1h0M288.2 97.4h0M336.4 108.4h0M91.1 401.7h0M167.7 271h0M193 230.7h0M176.3 258h0M313 82.8h0M171 274.3h0M335.6 107.7h0M449.2 300.5h0M114.7 379.8h0M190.3 243.4h0M303 73.6h0M103 394.7h0M146.1 308.7h0M337.8 113.1h0M259.9 127.9h0M483.7 373.1h0M335.8 106.1h0M418.6 246.3h0M236.1 152.2h0M249.9 140.1h0M461.4 325.6h0M355.7 120.2h0M488.5 376.9h0M194.6 220.9h0M133.4 337.2h0M383.2 163.9h0M138 332.2h0M116.2 375.7h0M255.8 137.6h0M387.3 168.8h0M242.5 149.9h0M416.9 242.4h0M284.7 106.1h0M209 197.7h0M319.7 87.6h0M350.9 114.2h0M149.1 303.2h0M345.2 108.8h0M157.3 284h0M512.4 397.5h0M318.5 87.4h0M173.7 265h0M101.4 399.7h0M177.8 257.2h0M223.8 174.2h0M337.1 107.1h0M377.1 163.5h0M398.4 199.5h0M278.4 117.3h0M362.3 136h0M328.3 105.3h0M214.1 188.4h0M179.7 255.1h0M259.8 131.4h0M388.7 176h0M142.2 322.5h0M364.9 142.7h0M91.7 403.6h0M164.1 275h0M379.9 159.7h0M441.3 286.4h0M423.1 255.3h0M386 173.4h0M195.3 217h0M521.1 402.3h0M349.3 118.1h0M486.6 373.5h0M498.3 390.9h0M188.5 250.9h0M513.1 389.8h0M118.6 374.4h0M365.5 140.7h0M196.5 216.4h0M124.3 351.1h0M335.3 105.1h0M176.9 258.4h0M431.7 272.5h0M287.4 105.1h0M202.3 216h0M87.7 404.7h0M389.8 178.5h0M365.1 139.8h0M440 288.1h0M252.6 144.3h0M488.7 370.6h0M93 403h0M490.5 370.7h0M422 253.2h0M128 344.4h0M520.8 399.4h0M122.4 361.8h0M416 240.5h0M191 233.1h0M389.3 182.6h0M454.1 314.9h0M134.9 336.8h0M226.6 176.8h0M480 360.1h0M294.5 84.1h0M150.5 296.9h0M121.1 361.8h0M137.1 332.9h0M129.5 345.7h0M241 154.4h0M427.3 258.6h0M283.6 111.8h0M126.2 347.9h0M239.1 149.2h0M297.3 76h0M281.5 113.6h0M367.2 150.7h0M384.7 167.8h0M414.5 237.5h0M320.4 90.3h0M95.8 406h0M424.2 252.5h0M430.2 264.8h0M406.4 212.5h0M276.8 121.7h0M476.3 353h0M125.3 354h0M411.1 227.5h0M347.3 111.3h0M393.4 201.5h0M112.4 381.6h0M512.4 399.4h0M95.9 398.9h0M161 278.2h0M311.9 72.5h0M336.9 107.3h0M161.5 281.3h0M210.1 193.7h0M488.8 367.2h0M225.2 178.7h0M280.2 107.1h0M132 347h0M335.1 106.8h0M393.7 191.2h0M411.4 227.3h0M185.8 250.1h0M246.4 152h0M373.1 158.7h0M514.5 400.8h0M424.3 251.6h0M179.8 254.1h0M111.6 381.6h0M228.2 178.5h0M317.5 86h0M203.3 208.6h0M433.2 273.8h0M196.4 222.2h0M137.5 337.7h0M350 111.6h0M420 248.2h0M173.5 269.5h0M230.7 168.4h0M197.8 215.9h0M95.3 397.5h0M385.7 169.4h0M105.1 396.3h0M354.2 125.6h0M360.9 140.8h0M317.9 86.8h0M101.4 396.9h0M99.1 397.1h0M311.2 77.8h0M300.3 72.7h0M89.4 399.5h0M87.3 400.6h0M425.9 256.5h0M226.6 178.8h0M400.8 206.9h0M170.7 276.7h0M200.4 219.4h0M481.3 361.7h0M170.3 273h0M263.8 128.8h0M303.9 70.8h0M398.6 202.7h0M224.9 174.5h0M370.8 153.4h0M181.2 254.5h0M385 168.1h0M91.9 397.3h0M165.4 277.7h0M109.6 387.1h0M127.8 348.9h0M414.7 242.6h0M288.5 102.3h0M430.3 267.8h0M515.4 404h0M165.1 272.6h0M423.9 254.5h0M514 397.9h0M219.9 186.2h0M116.8 374.8h0M287.5 112.1h0M323.4 103.1h0M388 174.4h0M335.9 109.2h0M216.5 188.1h0M154.6 292.5h0M233.5 163.9h0M290.7 86.8h0M164.9 272.5h0M215.1 193.2h0M475 353.5h0M270.5 127.1h0M138.1 330.4h0M378 159h0M240.1 153.2h0M311.2 72.2h0M256.9 135h0M133.5 340.9h0M409.8 222.6h0M335.1 110.3h0M521.6 403.8h0M84.6 402.7h0M338.8 108.6h0M271.5 124.8h0M275.5 114.6h0M403.3 203.4h0M190.1 241.9h0M260.1 133.9h0M141.7 321.2h0M334.1 107.8h0M276.7 115.6h0M101.4 397h0M184.8 255.1h0M258 136.3h0M318.7 87.1h0M123.7 363.1h0M357.5 126.5h0M445.6 283.4h0M230.3 177.6h0M112.1 379.9h0M147.6 304.6h0M421.3 251.8h0M318.8 91.2h0M142.9 318.5h0M157.1 288.5h0M452.4 310.6h0M384.2 167.1h0M391.4 175.3h0M144.8 314.3h0M522.3 399.1h0M195.2 217.9h0M239.7 153.9h0M186.4 260.5h0M501 381.1h0M362.9 140.1h0M328.2 99.5h0M266.4 126.3h0M400.9 202.7h0M290.5 96.1h0M287.5 99.6h0M149.9 301.3h0M448.2 302.8h0M111.9 381.5h0M485.4 367.5h0M489.4 369.3h0M314.9 82.1h0M155 291.9h0M179.2 256.2h0M144.5 313.9h0M393.7 188.4h0M243.6 150.9h0M518.7 397h0M234 154.9h0M228.9 179.7h0M383 169.6h0M472.5 353.2h0M316.3 85.8h0M136.8 333.7h0M158.3 288.7h0M400 201.1h0M422.5 253h0M522 401.8h0M337 110.5h0M429.7 260h0M382.1 170.7h0M326.6 101.5h0M441.4 287h0M173 263.9h0M150.5 296.7h0M220 185.4h0M253.4 132.8h0M504.1 395.9h0M448.8 297h0M413 236.8h0M478.3 355.2h0M252.7 141.8h0M519.7 400.9h0M485.5 373.2h0M164.7 273.7h0M250.2 149.3h0M219.2 184.7h0M168.2 273.9h0M498.6 379.2h0M255.9 135.2h0M468.4 339.9h0M347.3 110.7h0M109.1 387h0M275 126.5h0M428.8 257.3h0M224.1 176.5h0M212.5 190.5h0M124 354.8h0M293 80.5h0M500.9 381.4h0M90.8 402.7h0M476.2 349.1h0M348.8 118.5h0M207 191.7h0M481.4 368.3h0M494.3 380.3h0M514.6 396.4h0M287.9 91.1h0M266.5 130.7h0M377.6 158.9h0M477.1 360.9h0M237.9 154.4h0M229.9 167.6h0M264 130.9h0M91.8 403.1h0M455.5 314.5h0M285.7 103.5h0M289.7 94.8h0M363.5 137.9h0M441.7 288h0M395.7 200.9h0M230.6 171.3h0M213.3 190.5h0M230.4 169.6h0M318.8 86.3h0M442.5 285.1h0M86 399.5h0M351.2 114.6h0M457.2 324.5h0M331.8 103.9h0M251.7 140.9h0M293 77.7h0M311 73.3h0M360.9 128.1h0M115.8 379.8h0M434.3 277.4h0M327.4 105.3h0M205.5 211.6h0M489 373.9h0M259.5 132.7h0M426.5 256.1h0M214.6 188.3h0M325.9 94.7h0M166.8 273.4h0M204 205.7h0M228.7 167.1h0M146.3 307.5h0M420.2 247.3h0M282.6 108.4h0M236.6 151.9h0M342.3 107.1h0M184.6 256.1h0M276.9 119.2h0M334.6 109.1h0M356 123.8h0M270.1 123.9h0M412.4 236h0M467.4 345.9h0M510.2 393.7h0M331.2 106.4h0M511.1 400.1h0M499.1 395.1h0M373.4 161h0M142.2 326h0M367.2 146h0M318.4 87.1h0M394.4 191.9h0M202.7 209h0M523.4 403.6h0M236.3 155.9h0M526.3 402h0M205.2 201h0M294.6 78.5h0M385.1 167.4h0M197.8 220.2h0M263 128.6h0M376.3 162.7h0M416.7 242.2h0M489.6 380.4h0M327.5 100.3h0M510 402.9h0M207.7 211.7h0M352.9 119.9h0M418.8 250.2h0M119.4 375.9h0M431.9 267.3h0M446.2 290.1h0M332.3 108.9h0M492.6 377.2h0M393.1 193.7h0M245.4 153.8h0M440.7 287.9h0M312.9 78h0M385.8 165.6h0M521.3 399.6h0M391.7 186.7h0M427.7 255h0M444.9 289.4h0M171.5 267.5h0M99.2 398.4h0M116.2 376.2h0M288.8 94.3h0M511.3 400.1h0M280.6 109.8h0M492.7 379.3h0M212.7 187.5h0M145.6 311.8h0M263 129.9h0M457.3 311.1h0M512 404.3h0M321.6 89.6h0M251.3 149.2h0M432.1 273.8h0M271.3 132.4h0M216.6 185.9h0M418.2 238.9h0M119.4 373.6h0M427.4 256.8h0M506.1 395.2h0M128.2 348.5h0M429.7 266h0M92.9 402.6h0M138 331.6h0M212.5 200.1h0M526.2 401.3h0M106 382.4h0M285.1 102.3h0M278.9 115.2h0M161.1 283.7h0M516.7 398.1h0M187.5 249.3h0M482.8 364.2h0M323.6 94.9h0M399.1 203.5h0M412.6 231.6h0M382.1 168h0M441.7 285.8h0M473.8 350h0M145.4 311.2h0M122.1 369.8h0M283.9 104h0M130.3 342.8h0M344.9 110.7h0M500.6 391.3h0M311.1 76.5h0M157.1 285.4h0M134.3 335.8h0M318.7 86.4h0M412.5 236.6h0M440.5 285.6h0M418.1 246.8h0M288.8 101.5h0M471.1 344.8h0M322.6 99.2h0M385.8 169.1h0M83.6 403.2h0M300.3 70.7h0M121 365.8h0M176.9 258.5h0M216.2 185.7h0M337.1 109.1h0M116.5 372.3h0M398.7 199h0M257.7 124.2h0M179.3 256.4h0M506.8 390.4h0M375.9 165.2h0M231.6 163.6h0M137.1 336.3h0M300 70h0M425.1 253.1h0M309.9 71.6h0M220 187.9h0M132.6 344.9h0M181.9 255.1h0M433.4 276h0M153.3 293.4h0M518 399.8h0M406.3 217.8h0M261.5 132.7h0M166.4 273.1h0M289.2 92.3h0M505.4 398.5h0M135.3 334.9h0M190.7 236.7h0M116.6 384.9h0M403.9 211.1h0M504.7 390.1h0M329.7 101.4h0M214.7 187h0M510.4 400.9h0M343.2 109h0M508.8 399h0M248.2 145.9h0M147.1 310.7h0M113.5 379.2h0M201.1 213.1h0M274.9 112.3h0M421.5 252.1h0M290.7 90.3h0M202.1 213h0M482.3 371.2h0M338.7 108.1h0M350.1 121.3h0M446.6 296.1h0M380.4 166.2h0M189.8 246.7h0M505.5 389.5h0M154.1 291.6h0M153.7 294.7h0M370.6 151.5h0M341.2 113.1h0M184.3 255.9h0M394.3 198.6h0M126.6 346.9h0M293.5 92.1h0M503 387.1h0M480.3 360.2h0M350.6 115.2h0M434.7 283h0M376.9 163h0M186 253.5h0M463.7 341.4h0M353.8 126.6h0M347 115.6h0M505.7 396.3h0M330.8 106.1h0M227.2 176.5h0M270 124.5h0M329.2 103.4h0M469.7 336.7h0M456.5 318.1h0M259 132.5h0M299.4 72.6h0M104.7 389.8h0M366.2 149.4h0M438.9 283.6h0M170.3 269.6h0M364.7 150h0M144.7 315.9h0M455 318.6h0M406.8 218.6h0M497.4 384.2h0M208.6 201.4h0M158.1 285.7h0M335.9 109.9h0M108.2 383.2h0M447 293.1h0M173.3 267.2h0M141.7 324.3h0M148.2 296.6h0M394.8 192.2h0M104.4 397.1h0M269.7 125.8h0M163.1 280.2h0M429.1 259.6h0M106.5 383.3h0M169.7 269.3h0M425.2 249.1h0M311.5 81.7h0M133.6 337.9h0M522.1 402.6h0M247.3 151.2h0M268.8 125.2h0M411.8 229.2h0M301.1 76.5h0M450.9 309.3h0M320.4 90.1h0M191.6 232.1h0M320.4 90.8h0M454.9 306.3h0M207 200.2h0M364.7 136.3h0M339.9 108.6h0M390.2 185.4h0M242.4 153.2h0M183.1 252.8h0M377.5 162.4h0M458.9 323.6h0M291.8 86.6h0M143.2 324.5h0M439.4 284.3h0M317 82.4h0M385.5 170.5h0M127.5 347.2h0M430.9 269.5h0M247.9 153.9h0M477.6 356.4h0M192.5 232.6h0M85.2 398.5h0M224.3 172.3h0M403.9 209.7h0M402.1 207.8h0M458.9 332.3h0M176 259.3h0M346.2 108.4h0M114.9 375.5h0M182.2 253.3h0M102.8 395h0M361.7 130.8h0M480.1 366.4h0M349.4 109.5h0M350.1 124.2h0M483.8 367.7h0M228.9 170.6h0M329.7 100.8h0M441.9 286.8h0M168.7 267.1h0M394.7 196.3h0M116.7 373.6h0M246.6 152.5h0M164.6 277.3h0M274.5 125.9h0M173.2 269.4h0M109.7 386.1h0M279.9 114.2h0M255.8 132.9h0M408.4 217.4h0M88.7 403.3h0M364.7 143.7h0M102.2 393.7h0M298.1 74.2h0M91.5 403.6h0M487 373.9h0M299 72.9h0M294.4 75.2h0M114 373.8h0M431.8 268.8h0M200.7 213.9h0M291.3 83.6h0M403.1 212.6h0M433.9 282.3h0M253.9 136.1h0M109.5 385.1h0M520.3 400.5h0M195.8 224.3h0M101.2 397.4h0M357.7 128.3h0M470.3 348.3h0M121.5 368.4h0M102.8 393.1h0M383.1 168.2h0M336.7 107.2h0M197.5 218.4h0M200.2 218.7h0M423.2 252.5h0M91.8 397.6h0M189.3 247.5h0M243.5 149.9h0M426.3 256.1h0M222 182.9h0M106.6 383.1h0M412.6 229.6h0M388.1 177.7h0M139.1 333.1h0M405.7 208.7h0M359.2 135.6h0M245.8 150.2h0M339.2 108.2h0M305.7 72.3h0M434.8 277.2h0M505 391.2h0M233.9 159.5h0M122.6 374.7h0M244.4 155.4h0M348.6 114h0M196.3 220.7h0M151.2 298.7h0M176.6 261.2h0M459.3 322.8h0M399.5 203.4h0M138.3 329.9h0M215.5 187.1h0M202.8 211h0M132.4 345.5h0M455 317.6h0M210.9 185h0M333.3 109.7h0M252.3 143.3h0M113.6 378.8h0M98.7 404.7h0M390.9 181.2h0M361.3 131.6h0M301.1 70.5h0M161.2 278.5h0M233.7 162.5h0M307.6 70.9h0M178.3 255.8h0M338.5 110.5h0M455.3 308.9h0M161.4 279.1h0M495.9 376.3h0M307.9 73.2h0M516.6 397.4h0M512.2 395.3h0M110.9 380.2h0M385.2 162.1h0M190.5 239h0M358.2 122.6h0M477.5 350.7h0M285.9 98h0M372.4 156h0M379 162.8h0M165.9 277.3h0M271.5 127.4h0M211.8 193.3h0M296.9 74.3h0M421.1 247.3h0M146.9 315.1h0M328.1 99.1h0M306.3 75h0M253.4 136.9h0M456.2 320.4h0M238 150.1h0M437.7 284h0M113.9 379.3h0M277.6 104.2h0M130.9 341.8h0M458.5 327h0M377.5 164.5h0M176.8 260.1h0M247.8 148.1h0M139 331.2h0M475.5 346.3h0M478.9 354.8h0M478.7 360h0M351.4 117h0M199.9 219.2h0M284.9 102.1h0M377.7 163.6h0M271.4 126.8h0M108.2 386.6h0M315.6 97.5h0M121.4 361.4h0M186.9 250.5h0M445.3 288.6h0M355 125.2h0M436.4 282.6h0M384.1 164.9h0M374.5 159.1h0M192.3 232.2h0M396.9 196.2h0M138.6 333.5h0M90.6 404.9h0M233.1 162.4h0M152.1 294.7h0M391.1 185.7h0M209.3 203.4h0M97.9 398.4h0M426.8 259.2h0M497.6 378.8h0M398.2 192.7h0M506.6 390.2h0M430.2 264.7h0M495.2 377.6h0M381.3 163.7h0M430.9 264.1h0M435.6 278.1h0M134.3 334.8h0M224.6 174.8h0M356.3 115.9h0M225.2 177.5h0M470 345.4h0M106.6 387.7h0M139.3 335.8h0M228 169.7h0M234.7 157h0M452.2 295.3h0M89.1 401.7h0M449.8 300.3h0M514.3 400.1h0M104.5 394.8h0M505.1 390.4h0M375.7 156.6h0M141.1 329.6h0M451.6 311.2h0M135.4 339.4h0M253 138.9h0M188.4 244h0M253.2 139.8h0M147.2 303.5h0M250.7 135.8h0M335.1 108.1h0M288.6 98.5h0M314.1 84.5h0M479.1 356.2h0M460.6 328.8h0M132.6 337.2h0M408.8 217.3h0M436 282.2h0M486.2 364h0M256.9 132.6h0M492.4 385.2h0M329.7 107.8h0M290.6 93.8h0M308.2 74h0M265.6 129.8h0M388.9 174.9h0M318.6 98.1h0M472.4 346.5h0M290.8 87h0M105.8 391.7h0M152.1 295.1h0M265.8 133.7h0M291.9 83.1h0M443.7 285.9h0M344.7 109.2h0M157.7 292.3h0M216.7 189.9h0M320.6 92.4h0M434.8 279.1h0M397.2 198.4h0M366.8 142.6h0M196 223.6h0M335.8 106.8h0M191.4 236.5h0M111.5 380.2h0M419.3 246.9h0M371.2 152.3h0M521.3 404h0M414.3 238.5h0M194.7 220.3h0M94.9 402h0M273.6 121.9h0M233.5 160.7h0M311.5 79.7h0M248.8 147.1h0M103.8 392.5h0M112.9 379.3h0M241.7 153.5h0M344.1 115.1h0M160.4 283.6h0M162.2 277.1h0M185.5 252.4h0M411.8 229h0M421.8 254.6h0M298.8 73h0M106.7 384.1h0M500 388h0M468.2 340.5h0M216.3 186.3h0M86.4 401h0M300.9 72h0M157.2 286.6h0M251.2 134.6h0M260.1 131.3h0M220.8 184.2h0M488 378.7h0M255.4 136.6h0M132.3 345h0M337.8 107.9h0M476.9 362.2h0M185.2 260.1h0M307.8 73.1h0M250.3 145.2h0M382.4 166.5h0M221.2 187.4h0M195.8 216.6h0M509.1 399.7h0M448.1 293.9h0M394.7 189.4h0M373.9 158.9h0M497.1 384h0M107.9 388.9h0M278.1 121.8h0M359.1 127.4h0M139.7 331.4h0M524.5 404.3h0M387.2 173.3h0M419.6 249.1h0M511.4 396.7h0M339.2 109.6h0M487.9 364.1h0M248.1 143.2h0M491.7 378.1h0M307.7 70.6h0M426.7 257h0M203.1 214.6h0M294 78.8h0M329.5 107.3h0M311.4 74.3h0M492.5 378.2h0M285.4 100.4h0M471.4 341h0M131.8 336.4h0M176 260.4h0M160.5 288.2h0M163.7 281.2h0M342.5 110.8h0M127.7 353.8h0M381.5 167.7h0M469.5 343h0M492.1 380.8h0M107.1 387.5h0M191.9 231.5h0M278.3 128h0M88.9 403.2h0M381.7 165.4h0M284.4 106.3h0M272.1 121.5h0M151.6 293.2h0M113.1 385.5h0M475 354.4h0M348.2 109.4h0M236.3 150.2h0M473.3 348.3h0M134.3 334.9h0M259.1 136.1h0M115 372.8h0M434.8 282.6h0M474.5 346.2h0M208.9 190.3h0M445.8 290.9h0M505 386.4h0M184.8 251.4h0M511.3 394.7h0M231.6 153.2h0M397 192.2h0M320.8 93.1h0M237.6 148.1h0M349.5 109.4h0M82.6 400.4h0M305.3 74.3h0M304.2 74.5h0M364 146.6h0M422.3 248.5h0M473.3 351.9h0M438.5 284.3h0M469.5 339.3h0M249.2 150.6h0M129.5 346.4h0M371.3 151.8h0M102.5 391.5h0M506.3 386.6h0M296.6 77.9h0M196.4 222.6h0M96.3 399.9h0M456.8 316.9h0M452.7 306.3h0M142 328.3h0M425.3 254.8h0M121.3 358.9h0M391.5 186.2h0M319.1 91.4h0M367.1 144.4h0M143.4 316.8h0M434.5 276.5h0M431.9 272.3h0M456.1 314.7h0M261.3 131.1h0M197.5 218.9h0M326.6 106.8h0M392.6 182.2h0M420.1 252.3h0M281.8 100.9h0M352.8 118.8h0M369.4 147.8h0M345.1 110.6h0M401.2 206.4h0M219.9 192.2h0M186.8 255.8h0M210.7 190.2h0M434.1 277.9h0M512.5 397.5h0M223.7 175.9h0M373 158.6h0M340.6 110.2h0M473.4 346.9h0M89.2 399.6h0M358.6 133.4h0M468.7 342.4h0M510.9 400.4h0M267.4 132.5h0M296.3 73.7h0M455.3 303.4h0M497.5 381.4h0M187.3 247.2h0M476.8 349.8h0M135.8 333.4h0M105.3 396h0M97.1 399.8h0M115.9 383.7h0M125.2 359.2h0M186.7 245.3h0M210.4 194.4h0M512.9 402.6h0M438.7 280.7h0M128.5 343.9h0M168.1 271.1h0M390.4 180.2h0M349.1 120.1h0M280.5 105h0M271.5 134.2h0M413.7 231.9h0M300.7 71.8h0M402 207.6h0M87.6 402.8h0M127.1 351.8h0M165 280.5h0M345.5 115.8h0M340.8 114.6h0M468.3 342h0M476.3 358h0M441.2 285.2h0M229.6 176.6h0M108.7 377.5h0M475.5 349.3h0M495.7 378.4h0M93.4 399.9h0M84.2 406.5h0M161.4 277.7h0M242.7 151.1h0M395.9 190.1h0M285 101.1h0M376 158.1h0M443.8 290h0M160.8 285h0M220.1 177.2h0M513.5 391.5h0M322.7 97.8h0M301.3 73.9h0M327.2 98h0M325.5 99.2h0M404.3 207.6h0M468.9 346.2h0M359.6 127.4h0M362.8 136.3h0M339.3 111.4h0M188.6 246.6h0M421.8 251.8h0M170.5 270.4h0M196.8 214.4h0M233.2 160.4h0M315.5 81.5h0M445.8 294.9h0M240.8 157.8h0M350.1 119.8h0M275.7 130.8h0M280.7 112.9h0M511.6 401.9h0M370.1 155.3h0M90.4 403.6h0M466.2 343.3h0M305 72.6h0M510.3 402.5h0M137.8 329.1h0M508.6 389.2h0M373.5 155.1h0M358.4 136.4h0M303.4 71.7h0M511.9 394.3h0M454 307.3h0M315.1 85.9h0M249.1 148.4h0M255 142.8h0M294.7 76.9h0M162.3 282.7h0M186.2 249h0M376.3 162.3h0M424.9 259.7h0M485 368.5h0M152.8 293.7h0M219.7 186.9h0M164.6 273.7h0M360.5 132.3h0M216.5 185.7h0M224.6 177.5h0M112.4 376.3h0M425.8 258.5h0M496.4 380.7h0M143.1 320.8h0M300.1 72.8h0M431.1 266.8h0M468.4 334.4h0M238.5 157.6h0M109 380.7h0M422.7 252.6h0M397.5 197.2h0M258.3 131.9h0M518.9 402h0M400.6 209.6h0M335.7 107.4h0M344.5 108.8h0M118 375.2h0M508.6 386.3h0M522 399.2h0M155.6 287.4h0M423.8 251.7h0M339.7 107.6h0M257.5 136.6h0M344.7 109.5h0M136.3 335.3h0M238 154.1h0M230.5 164.4h0M385 166.2h0M316.9 93h0M94.2 403.3h0M210.5 199.1h0M252.9 141h0M243.7 153.9h0M431.8 271.3h0M450.5 302.7h0M505 391h0M500.2 378.2h0M299.5 72h0M330.5 102.9h0M350.3 111.2h0M307.7 73.4h0M99.4 400.3h0M131.6 344.5h0M436 280.5h0M416.8 245.3h0M220.4 185.8h0M170.3 271.1h0M335 106.5h0M459 333.8h0M107 383.3h0M371.9 149.7h0M182.5 252.2h0M196.2 227.7h0M278.4 113.8h0M155.2 288.9h0M413.3 228.1h0M125.1 354.4h0M302.4 71.2h0M379.2 158.5h0M451 311.2h0M328.2 102.8h0M140.1 337.4h0M441.5 285.9h0M87.7 395.3h0M93.2 396.8h0M83.9 396.5h0M90.3 394.9h0M94 396.8h0M84.4 396.1h0M91.6 395.9h0M87.6 396.4h0M84.3 396.8h0M89.5 395.4h0M86 396.6h0M86.8 395.9h0M93.6 396.9h0M87.5 397.1h0M85.6 396.9h0M87.8 397.2h0M89.9 397.2h0M93.6 394.7h0M88 395.4h0M90.5 396.1h0M87.1 396.2h0M93.8 395.3h0M85.3 396.5h0M90.1 396.9h0M86.4 395.9h0M87.7 410.3h0M83.7 410.7h0M87.2 406.6h0M92.6 412.4h0M86.8 407.5h0M84.9 407.5h0M88.8 408.7h0M84.4 405.9h0M90.2 405.8h0M89.5 406.2h0M91.1 409.2h0M88.1 411h0M86 409.8h0M93.9 406.9h0M82.7 409.9h0M85.7 405.2h0M86.7 408.5h0M86.4 408.7h0M94.3 407.8h0M85.7 405.4h0M92.1 406.6h0M87.4 413.1h0M86.9 405.8h0M90.7 413.3h0M87.8 411.9h0M92 410.1h0M85.3 405.5h0M91.7 410.5h0M87.3 410.8h0M94.1 409.4h0M95 410.7h0M86.3 408.5h0M87 406.2h0M89.3 412.2h0M89.9 411.7h0M88.8 405.3h0M92.2 408.2h0M86.8 412.8h0M89.7 409h0M84 410.4h0M86.9 408.1h0M92.1 411.8h0M83.8 410.5h0M89.6 409.4h0M85.9 411.1h0M106.3 402.5h0M104.9 399.3h0M102.2 403.9h0M104 400.7h0M102.8 405.3h0M104.5 403.3h0M102.4 398.3h0M100.8 402.1h0M100.4 402.8h0M106.7 403h0M103.6 402.9h0M102.5 400.6h0M104.5 401.5h0M102.2 404.2h0M99.4 403.3h0M105.4 403.3h0M101.9 403.8h0M100.7 402.2h0M104 401.6h0M103.2 398.1h0M112.4 370.6h0M113.2 371h0M114.6 372.1h0M113 372.2h0M115.2 369.8h0M120.1 373.5h0M123.3 369.9h0M123.2 377.1h0M120.7 373.5h0M121.2 376h0M124.6 377.5h0M122 373.8h0M123.2 370.3h0M122.6 379h0M121.4 374.5h0M122.8 377.8h0M120.9 371.2h0M126.7 373.2h0M121 377h0M126.4 376.7h0M122.4 378.4h0M120.5 376.8h0M125.1 373.7h0M123.7 375.8h0M126.6 376h0M120.8 377.1h0M124.4 379.4h0M122.3 376.4h0M124.8 372.4h0M126.3 378h0M130.5 366h0M127.9 363.6h0M130.3 367.1h0M129.1 368.3h0M129.4 359.7h0M127.7 365.8h0M128.1 363.3h0M129.2 362.6h0M129.2 365.2h0M130.5 368.5h0M129.5 369.3h0M129.6 369.6h0M128.7 359.3h0M128.3 360.7h0M128.4 363.5h0M162 297.9h0M158.5 298.3h0M158.8 296.1h0M159.6 294.5h0M162 289.9h0M162.4 295.2h0M157.7 293.8h0M161.8 291.2h0M159.5 294.2h0M159 290.4h0M160.1 295.6h0M158.7 297.8h0M160.2 289.5h0M161 292.4h0M172.4 281.3h0M170.6 278.3h0M171.8 276.7h0M171.1 277.4h0M171.3 277.3h0M178.3 268h0M176.8 268h0M176.3 266.7h0M176.7 263.6h0M176.7 269.7h0M178.5 264.5h0M179.5 268.6h0M142.3 340.4h0M140.1 338.3h0M143.2 341.8h0M140.4 337.3h0M140.7 339.7h0M140.6 341.6h0M205.3 217.8h0M206.7 217.3h0M207.2 218.2h0M204 216.3h0M202.1 218.5h0M207.3 223.6h0M199.8 221.6h0M202.3 219.7h0M200.2 223.4h0M202 217.9h0M201.6 221.2h0M206.1 221h0M206.4 224h0M203.3 223h0M216.1 195.4h0M214.2 197.6h0M212 204.8h0M216.7 203h0M213.1 198.5h0M212.9 204.6h0M213.4 200.1h0M215 195.7h0M213.2 203.5h0M212 198.1h0M217.2 197.2h0M213.6 201.6h0M217.6 198.2h0M216.5 199.5h0M242 170.5h0M236 176.7h0M233.5 170.8h0M240.2 177.7h0M241.9 167.8h0M241.1 175.5h0M242.8 172.6h0M237 170.8h0M240.4 169.1h0M235.8 168.4h0M236 176.5h0M236.1 169.9h0M239 176.4h0M244.6 167.6h0M244.1 173.6h0M238.7 171.7h0M246.3 171.7h0M244.7 169.6h0M239.4 169.7h0M237.7 174.3h0M244.7 168.2h0M235.6 168.2h0M244.6 167.5h0M239.3 167.7h0M237.6 167.2h0M237.1 143h0M241.6 140.3h0M238.6 135.1h0M235.5 136.2h0M243.3 134.3h0M242.4 132.1h0M241 132.3h0M241.6 139.6h0M244.3 135.5h0M240.2 144.8h0M241.1 141.6h0M239.3 140.6h0M242.8 135.3h0M244.9 137.4h0M242.9 137.4h0M240.3 139h0M238.8 136.5h0M268.8 121.1h0M254.1 122.1h0M267.4 122.1h0M262.8 121h0M255.9 120.5h0M256.6 119.6h0M262.2 121.4h0M259.5 122.2h0M254.5 121.7h0M253.9 117.7h0M258.5 118.1h0M258.1 120.7h0M263.8 116.4h0M263.1 119.1h0M256.3 116.5h0M260.5 115.2h0M255.4 119h0M269.7 120.4h0M260.4 125.5h0M262 122.7h0M258.4 116.4h0M261.8 116.1h0M260 118.1h0M252.5 121.6h0M259.6 125.3h0M259.1 116.7h0M259.3 120.6h0M255.3 117.6h0M266.4 118.7h0M259.8 115.9h0M260.5 123.1h0M257.5 122.3h0M260 144.2h0M268.5 146.3h0M268.3 148.1h0M269.4 142.6h0M267.1 151.4h0M270.4 141.7h0M260.6 140.5h0M264.2 151h0M270.2 146.3h0M269.6 140.7h0M267.9 138.3h0M270.3 140.5h0M263.6 145.7h0M263.7 150.5h0M269.3 143.2h0M268.1 146.3h0M267.6 143h0M264.9 137.7h0M263 143.3h0M262 142.4h0M267 147.9h0M267.4 138.2h0M270.5 143.2h0M268 137.2h0M288.7 111h0M285.2 113.8h0M288.8 115.5h0M286.6 111.2h0M286.9 120.3h0M287.7 120.3h0M289.6 118.4h0M285.2 113.1h0M285.6 116.5h0M285.8 112.4h0M287.8 115.6h0M287.7 118.1h0M254.8 156.3h0M250.9 157.4h0M246.2 157.6h0M252.6 157.9h0M248.3 157h0M250.7 161.6h0M253.4 162.8h0M249.6 164.8h0M253.5 156.8h0M253.7 162.1h0M253 158.3h0M249.7 160.2h0M249.8 163.5h0M253.6 161.3h0M300.7 93.4h0M304.9 83.9h0M306.4 97h0M307.8 94h0M300.9 91.9h0M303.4 81.1h0M300.8 91.7h0M300.4 92.1h0M301.8 95.1h0M305.4 87.1h0M301.4 97h0M300.5 92.9h0M300.4 92.5h0M304.2 89.3h0M302.7 89.8h0M300 93.1h0M299.7 88.9h0M308.5 91.1h0M303.3 98.9h0M308.1 90.9h0M305.9 95.5h0M301.1 97.1h0M303.1 90.1h0M299.5 89.6h0M304.6 92.7h0M303.7 83.7h0M306.7 85.8h0M306.6 88.7h0M300.1 90.8h0M299.8 94.8h0M304.3 66.4h0M304.8 55.4h0M307.7 57.9h0M307.1 66.9h0M306 67.7h0M307.5 63.2h0M307.6 55.4h0M309.3 64.6h0M307 62.9h0M306.9 64.7h0M306.3 61.9h0M307.5 54.3h0M307.7 56.3h0M307.7 57.8h0M307.7 66.1h0M306.7 64.1h0M304.6 65.6h0M303.5 61h0M304.3 56.5h0M303.7 57.8h0M308.8 60.7h0M309.1 64.8h0M347.4 102.6h0M351.3 103h0M350.3 101.4h0M350.6 103.8h0M349.3 97.9h0M348.3 96h0M346.5 97.5h0M349.5 104.4h0M304.6 95.1h0M305.9 90.4h0M301.3 83.6h0M299.1 88.6h0M304.1 82.5h0M307.8 87.3h0M307.3 89h0M299.8 86.3h0M306.7 95.8h0M308 87.8h0M302.2 83h0M300.5 97.2h0M307.3 95.5h0M307.3 90.2h0M300.9 81.7h0M306 93.3h0M306.6 92.2h0M305.2 90.1h0M307.6 95.3h0M304.5 91.5h0M288.2 117.1h0M283.5 115.5h0M284.5 120.1h0M285.8 111.3h0M288 120h0M283.6 117.9h0M289.4 113.4h0M288.5 113h0M284.7 112.9h0M285.5 119.1h0M326.2 101.5h0M326.1 101.1h0M320 105.9h0M324.6 105.1h0M322.3 112.8h0M321.8 109.6h0M318 105.9h0M318.9 105.1h0M319.3 105.7h0M319.7 109.9h0M323.1 108.8h0M325.1 104.5h0M321.4 105.7h0M323.8 113.6h0M325.9 111.7h0M323.1 107.4h0M321.3 104.9h0M325.6 105.6h0M326.5 107.3h0M325.8 107.9h0M324.3 105.2h0M325.6 101.1h0M326.6 101h0M322.3 107.2h0M320.5 112.9h0M340.7 114.6h0M340.2 117.4h0M338.2 113.8h0M338.4 113.7h0M339.4 114.6h0M341.8 116h0M338.1 116.6h0M339.9 117h0M355.5 114.9h0M355.7 118.4h0M359.2 113.5h0M357.5 112.3h0M358.6 114h0M358.3 113.8h0M361.8 122.8h0M362.7 129.1h0M361.7 120.8h0M362.1 130.9h0M362.3 124.2h0M363.1 128.8h0M362.9 135.2h0M363.7 125.8h0M363.1 126.6h0M363.4 124h0M362.9 126.2h0M364.9 126.6h0M362.6 132.7h0M361.3 128.8h0M373.3 147.5h0M376.9 145.3h0M374.9 144.9h0M373.9 145.5h0M376.5 144.7h0M377.2 144.6h0M375.1 150.5h0M376.9 150.3h0M381.3 158.7h0M382.4 162.2h0M386 159.1h0M382.8 158.8h0M383.2 161.2h0M383.1 159.1h0M385.8 159.9h0M386.2 158.7h0M375.7 178.7h0M377.5 172.9h0M383.4 175.6h0M383.6 174.2h0M379.2 175.2h0M380.6 174.9h0M376.8 178.3h0M377.3 169.4h0M379.4 175.7h0M377.4 177.9h0M376.4 170.9h0M377.6 180.3h0M379.4 180.8h0M384 175.6h0M381.8 175h0M379.7 180.3h0M382.6 178.1h0M376 170.8h0M381.1 170.5h0M376.4 173.9h0M376.9 174h0M381.5 178.5h0M389.9 192.4h0M389.6 190.3h0M390.2 190.8h0M389.9 194.5h0M389.8 189.3h0M456.8 298.2h0M457.3 301.3h0M455.3 297.7h0M456.5 299h0M454.8 301.3h0M453.6 300h0M455.9 303h0M454.9 302h0M460.5 309.7h0M460.1 309.1h0M461.2 308.4h0M461.2 311.4h0M461.6 308.5h0M458.9 310.7h0M460.2 313.6h0M459.9 306.2h0M460.4 307.3h0M459.1 309.2h0M466 322.6h0M466.1 325.2h0M465.1 319.7h0M465.2 326.7h0M466.9 320.6h0M467 324.1h0M463.1 323.3h0M465.7 319.8h0M464.9 323.6h0M463.1 325.1h0M445.3 301.2h0M446.3 302.2h0M446.6 307.5h0M445.3 307.2h0M446.1 306.9h0M447.2 299.3h0M445.3 303.2h0M447.7 302.2h0M451.7 313.9h0M452.5 321.1h0M452.4 316.2h0M451.2 320.6h0M452.2 316.9h0M452.5 321.2h0M451.9 316.8h0M452.1 314.7h0M457.7 335.7h0M455.7 329.9h0M457.4 337.9h0M456.1 331.7h0M455.6 332.4h0M455 334.8h0M487 364.2h0M487.1 361.1h0M485.9 363.2h0M486.3 360.5h0M491.2 363.6h0M490.9 361.8h0M489.4 358.6h0M485.1 358.4h0M492.1 359.7h0M490.1 365.3h0M486.4 358.9h0M490.2 356.8h0M486.2 359.2h0M490 362.5h0M485.3 360.1h0M488.4 358h0M472.1 357.2h0M468.6 358.3h0M471.8 353.3h0M470.2 359.2h0M470.3 356.2h0M472.4 352.4h0M468.9 357h0M472.2 357h0M471.5 354.3h0M470.5 355.6h0M473 358.2h0M470.7 362.4h0M486.8 360.7h0M489.1 365.3h0M496.5 360.5h0M486 359.4h0M488.2 359.9h0M493.1 359.6h0M490.3 358.3h0M488 360.4h0M495.7 359h0M487.7 360.8h0M489.7 363.2h0M496 362.3h0M495.2 359.8h0M491.6 362.7h0M486 361.5h0M491.2 366.8h0M494.4 360.4h0M488 362.3h0M490.9 366.1h0M491.2 360.1h0M486.8 359.1h0M488.9 365.9h0M520.5 391.4h0M516.9 388.3h0M517.8 391.1h0M514.4 391.5h0M521.2 391.4h0M515.9 390h0M522.1 391.2h0M520.7 388.5h0M515.2 389.2h0M515.6 393.8h0M521.2 392h0M513.6 392h0M514.1 391.7h0M521.6 388.2h0M519.8 392.9h0M515.6 389.5h0M518.8 392.4h0M514.5 393.1h0M519.3 393.8h0M512.5 389.6h0M512.6 388.7h0M514.8 393.6h0M521.1 391.3h0M520.6 393.2h0M520.2 389.4h0M479.1 368.2h0M484.1 376.3h0M481.2 369.8h0M485.1 369.3h0M479.8 376.8h0M484.2 369.4h0M487.7 371h0M483.8 374.7h0M477.6 370.2h0M479.4 374.7h0M487.5 371.7h0M474.2 372.2h0M474.6 373.9h0M486.6 372.9h0M482.1 376.1h0M482.1 368.1h0M484.6 367.5h0M482.1 368.2h0M480.9 371.8h0M484.3 368.3h0M485.3 370h0M485.6 375.2h0M485.6 370.6h0M479.8 376.2h0M477.2 367.4h0M489.6 386.3h0M500.9 390.3h0M501.7 389.9h0M491.8 390.4h0M495.6 384.5h0M498.4 389.7h0M494.1 388.6h0M500.7 386.2h0M499 383.7h0M495.1 391.8h0M501.8 392.8h0M494.4 393.5h0M493.9 387.8h0M496.4 389.5h0M501.5 392.2h0M489 388.5h0M496.8 389.5h0M489.9 385.3h0M497.9 387.2h0M494.7 392.4h0M497.1 392.1h0M489.4 387.5h0M496.6 394.8h0M498.5 389.6h0M499.3 391.1h0M490.5 389.7h0M495 384.8h0M496.5 394.4h0M491.4 389.9h0M499.2 388.8h0M499.3 390.9h0M498.8 386.4h0M500.9 387h0M499.4 393.1h0M503.7 387.3h0M522.6 412.1h0M521 413.9h0M518.9 410.8h0M522.5 412.3h0M523.8 409.5h0M520.5 411.2h0M515.9 413.6h0M519.5 409.8h0M518.6 406.2h0M514.9 412.4h0M509.8 411.4h0M511.9 411.6h0M524.5 409.3h0M511.4 407h0M512.5 410.2h0M516.6 412.4h0M517.3 407.9h0M521.9 407.6h0M510.2 408.1h0M514.9 406h0M524.3 408.3h0M516.5 412.7h0M514.9 413.5h0M522.9 412.8h0M514.3 410.9h0M512.2 407.9h0M517.4 406h0M519.3 413.3h0M521.7 412.7h0M514.9 414h0M515.9 410.1h0M519.2 408.8h0M524.5 409.8h0M517.6 413.3h0M517.8 413.2h0M165.2 252.2h0M219.4 264.4h0M88.4 382.8h0M88.4 386.8h0M303.6 50h0M101 388h0M105 383h0M108 379h0M103 386h0M113 371h0M115 370h0M125 344h0M137.5 353.5h0M138 344h0M86 416h0M93 413h0M98 409h0M135 326h0M126 344h0M158 278h0M153 288h0M163 269h0M168 263h0M167 285h0M185 257h0M208 181h0M207 186h0M214 176h0M224 169h0M194 213h0M191 220h0M187 233h0M180 248h0M225.6 183h0M225 189.6h0M245.6 179h0M211 215h0M229 158h0M260.5 111.3h0M282 78.5h0M282 82h0M281 100h0M264 152h0M283.5 130.2h0M302.4 100.4h0M308 102h0M318 98h0M318 102h0M253.5 125h0M252 131.5h0M242.5 135h0M276 135h0M296 68h0M282 79h0M281 83h0M289 77h0M285 89h0M317 77.5h0M322.5 77h0M323.5 81.5h0M341.5 89.3h0M347.5 91.2h0M353 94.5h0M349 98h0M347.5 103h0M302.6 99.4h0M308 102.6h0M283 130.4h0M327.5 124.3h0M319 102.5h0M359.5 118.5h0M347 102h0M352 109h0M375 143h0M385 158h0M396.5 170h0M396.5 175h0M355 141h0M354 135h0M361 148h0M367 158h0M370.5 172.4h0M398 188h0M400 198h0M390 194h0M397 210h0M406 228h0M419 257h0M423 263h0M404 201h0M407 209h0M419 229h0M421 237h0M426 244h0M433 257h0M438 274h0M444 281h0M446 285h0M398 211h0M405 229h0M419.5 229h0M439 274h0M445 283h0M453 301h0M463 311h0M465 321h0M474 332h0M473 340h0M480 352h0M440 300h0M439 294h0M450 324.5h0M450 329h0M450 333.5h0M449 317h0M461.4 348h0M461.4 356h0M459 340h0M463.5 310.5h0M462 355.5h0M461.5 348h0M461 342.5h0M474.5 332h0M462 346h0M462 356h0M468 355h0M490 355h0M505 378h0M506 383h0M515.6 360.5h0M515.6 365.5h0M515.6 369.5h0M514.5 378h0M518.5 381h0M501.6 401h0M506.4 411h0M520 417h0M522.5 390h0M505.5 380h0M505.5 385h0M489 388.5h0M497 368h0M583.6 331.7h0M748.2 71.1h0M793.6 117.1h0M539.2 396.3h0M592.2 309.5h0M938.6 371.9h0M557.8 377.6h0M584.1 330.6h0M947.6 387.3h0M802.6 128.4h0M690.3 155.8h0M753.6 83.4h0M820.8 164h0M648.7 207h0M587.8 315.1h0M876.4 270h0M824.1 167.3h0M754 77.5h0M889.1 293h0M770.3 104.3h0M962 404.3h0M617.3 263.6h0M772.4 101.1h0M741.2 73.3h0M683.4 153.6h0M789.2 109.8h0M631 250.2h0M882.7 281.7h0M911.6 342h0M583.7 334.9h0M733.9 92.1h0M649.6 194.1h0M563.4 369.8h0M924.3 361.4h0M717.4 128h0M592.1 303.7h0M825.5 166.9h0M616.3 265.6h0M926.7 368.5h0M622.9 259.9h0M541.2 399.5h0M615.6 268.4h0M680 156.1h0M734.7 93h0M928.8 368.5h0M836.1 189.7h0M677.2 151.7h0M534 400.5h0M597.5 296.1h0M968.9 404h0M730.6 95.1h0M833.3 175.4h0M550.8 388.5h0M541.6 401.2h0M902.1 325.1h0M787.5 109.7h0M663.6 183.3h0M667.4 182.2h0M566.1 359.7h0M603.2 281.2h0M537.4 403.7h0M899.1 309.2h0M733.5 97.7h0M583 329h0M854.7 223.9h0M613.4 275.1h0M554 381.5h0M792.2 108h0M924.2 361.8h0M538.5 400.4h0M884 284.4h0M610.9 273.1h0M567.7 354.6h0M534.5 400.3h0M656.6 192.1h0M849.3 215.5h0M745.5 72.6h0M905.2 326.2h0M622.9 253.5h0M666.4 185.4h0M641.1 215.2h0M960.9 398h0M944.3 384.7h0M677.8 160.3h0M720.1 117.5h0M666.1 177.9h0M857.9 236.4h0M544.3 405.6h0M556.4 387.7h0M705.9 130.4h0M635.3 239.2h0M901.8 312.8h0M855.9 231.1h0M768.8 101h0M820.2 159.7h0M833.9 188.6h0M873.3 263.4h0M938.3 380.1h0M593 294.6h0M804.5 131.5h0M590.3 312.4h0M723.3 108.9h0M875.6 264.1h0M923.7 359h0M863.6 249.9h0M542.2 402.1h0M686.1 155.5h0M598.9 291.3h0M970 406.9h0M590.4 301.2h0M635 233.6h0M685.1 158.5h0M553.5 386.1h0M913 343.9h0M809 141.7h0M597.4 288.3h0M747.7 71.4h0M561.4 373.6h0M797.8 117.3h0M629.4 256.9h0M543.7 402.3h0M577.7 338h0M773 106.5h0M809.3 143.3h0M670.7 175.1h0M812.2 146.7h0M682.8 160.8h0M584.5 324.1h0M666.5 179.1h0M702 136.6h0M931.7 375h0M577.9 333.9h0M564.8 363.1h0M775.8 105.2h0M954.2 393.1h0M929.3 367h0M837.4 189.1h0M556.1 379.2h0M884.5 287h0M829.9 162.7h0M590.4 313.8h0M732.9 94.4h0M548.4 393.9h0M882.5 283.2h0M845.6 213.4h0M883.8 281.5h0M864.1 249.8h0M645.2 212.6h0M877.1 274.1h0M637.1 235.9h0M587.7 316.6h0M699.8 139.3h0M747.5 76.3h0M653.4 191.3h0M795.5 126h0M794 120.1h0M633 244.7h0M802.9 132.1h0M685.1 151.6h0M852.7 222.2h0M655.4 195.1h0M881.2 284.7h0M710.8 130.8h0M772.1 101.5h0M825.5 163.9h0M756.7 76h0M640.9 218.4h0M961.3 401.6h0M569.1 353h0M670.8 171.6h0M770.3 97.8h0M539.2 402.4h0M595.3 296.2h0M881.4 279.3h0M874.5 268.1h0M809.3 147.5h0M926.9 367.4h0M862 243.5h0M659.2 188.7h0M812.8 146.3h0M677.5 163.7h0M859.4 244.2h0M697.3 145.9h0M594.5 299.6h0M915.6 347.3h0M833 180.4h0M857.1 239.3h0M775 103.5h0M874.1 263.5h0M725.4 104.1h0M777.7 104.2h0M554.3 382.6h0M773 107.3h0M888.2 285.8h0M839.8 198.5h0M883.1 285.4h0M746.8 73.5h0M917.8 355.2h0M574.6 342.3h0M915.3 352.2h0M691.3 149.7h0M566.9 364.1h0M801.5 121.9h0M728.5 107h0M716.7 125h0M904.8 326.6h0M587.7 314.2h0M800.4 126.6h0M710.2 133.8h0M761 89h0M748.2 71.4h0M586.1 321.7h0M753.8 71.8h0M909.3 337h0M602.5 281.8h0M531.6 400.5h0M556.5 383h0M730.6 98.7h0M959.2 398.1h0M546.1 393.5h0M966.5 403.6h0M764.5 94h0M579.8 341h0M712.3 127.8h0M618.6 260.6h0M843.6 199.3h0M766.9 91.4h0M654.4 192.1h0M639.9 219.1h0M911.4 338.1h0M866.7 250.8h0M720.2 123.1h0M706.5 132.7h0M853.9 222.9h0M957.5 397.7h0M561.8 374.6h0M597.1 295.9h0M687.4 152.1h0M751.9 70.3h0M558.2 379.2h0M550.2 385.1h0M623.9 255.4h0M697.9 138.3h0M854.7 229.8h0M797.3 118.4h0M539.5 401.1h0M546.5 394h0M727.2 101.5h0M914.9 348.7h0M932.8 370.3h0M688.6 154h0M920.5 355.2h0M939 371.2h0M707 126.7h0M857.8 228.7h0M688.7 153.4h0M594.7 299.2h0M781.9 108.1h0M564.9 364.3h0M821 160.6h0M885.8 284.9h0M932.9 371.9h0M725.4 106.8h0M578.6 334.6h0M927.2 373.9h0M912.9 346.8h0M956.1 395.5h0M790.2 117.4h0M825.5 171.3h0M692.2 154.5h0M607.8 280.9h0M656 189.5h0M846.5 206.4h0M670.8 168.7h0M833.6 177.9h0M749.5 74.4h0M725.9 104.3h0M956.1 391.8h0M600.2 294.7h0M742.8 81.1h0M597.4 299h0M942.7 376.4h0M743.4 76.2h0M673.9 164.6h0M601.2 287h0M790.3 112.8h0M703.6 136.3h0M583 329.2h0M540.9 399.5h0M700.2 129.5h0M785.4 109.3h0M756.9 76.4h0M926.1 364.3h0M931.3 373.6h0M942.2 381.9h0M881.6 283.2h0M738.6 79.4h0M759.1 87.6h0M702.9 136.5h0M703.9 128.1h0M545 392.3h0M881.2 283.6h0M635.7 237.6h0M539.5 404.8h0M733.6 98.2h0M845.2 210.6h0M720.1 120.6h0M688.2 151.1h0M818.9 162h0M598.8 288.6h0M531.5 399.8h0M789.5 111.5h0M762 87.1h0M910.9 344.2h0M711.1 129.1h0M875.5 274.1h0M534.5 398.8h0M538.6 402.8h0M792.3 111.1h0M627 258h0M556.4 378.1h0M583.2 335.2h0M692.9 138.4h0M676.2 158.3h0M776.8 110.9h0M920.6 355.1h0M688.9 152.8h0M608.3 279.2h0M783.1 116.3h0M527.5 399.8h0M697.4 140.4h0M667.4 176.9h0M698.5 141.7h0M549.1 388.3h0M772.6 99.8h0M803.6 126.5h0M859.3 241.9h0M951.6 394.3h0M684 156h0M817.9 153.1h0M722.8 108h0M622 257h0M921.3 360.2h0M857.7 237.3h0M945.1 385.2h0M891.3 291.6h0M933.9 373.6h0M583.4 329.5h0M533.5 403.7h0M614.7 274.6h0M709.5 130.7h0M831.8 168.6h0M721.2 129.1h0M754.4 76.9h0M864.4 248.9h0M557.8 378.8h0M827.7 167.8h0M548.1 392.4h0M636.9 230.1h0M847.2 204.4h0M829.8 166.5h0M706.4 130.7h0M657.3 190.7h0M894.2 304.2h0M648.5 209.7h0M540.4 396.2h0M636.3 227.8h0M535.9 399.5h0M886.4 287h0M580.8 333.5h0M958.9 405.2h0M621.1 258.2h0M662.4 183.9h0M786.3 106.6h0M663.3 190.8h0M694.9 145.9h0M572.8 347.4h0M699.2 133.9h0M537.7 401.2h0M625.9 254.1h0M930.3 374.8h0M651.2 195.2h0M646.8 209.8h0M828.1 165.9h0M918.5 353.2h0M657.9 191h0M693.6 152.2h0M843.8 204.2h0M878.2 279.3h0M799 123.5h0M606 283.2h0M606.7 280.4h0M863 246.6h0M840.3 189.3h0M924.4 361.5h0M872.7 257.8h0M713.5 123.3h0M585.7 332.8h0M921.9 364.4h0M835.3 190.2h0M782.4 111h0M829.2 174.2h0M697.5 132.5h0M678.9 162.3h0M782 105.9h0M740.8 76h0M841.3 197.7h0M942.1 384.5h0M902.7 328h0M698.5 141.7h0M691.9 147.7h0M938 374.7h0M701.7 130.2h0M881.8 283.5h0M567.7 357.9h0M726.8 97.7h0M755.7 80.9h0M885.6 284h0M916.2 345.2h0M594.3 297h0M800.5 123.1h0M805.8 139h0M593.8 298.2h0M896.6 301.8h0M772.2 101.3h0M953.5 391.8h0M609.2 271.6h0M759.6 89.1h0M670.1 180.3h0M811.8 142.5h0M796.5 125.9h0M754 81.8h0M670.7 169.5h0M750.3 72.8h0M691.8 149.4h0M922 361.5h0M731.4 88.3h0M737.5 84.6h0M641.3 217.6h0M639.2 224.5h0M950 395.8h0M665.9 174.4h0M912 341.9h0M790.6 110.9h0M961.9 401.9h0M599.3 294.4h0M944.6 388.8h0M869.5 252.7h0M778.7 109h0M841.2 194.2h0M847.3 212.1h0M725.6 106h0M808.2 140.7h0M628 253.6h0M536 397.5h0M826.9 165.7h0M737.2 78.1h0M928.6 372.7h0M643.7 222.4h0M889.7 286.4h0M964.4 394.9h0M925.2 366.4h0M954.7 394.2h0M597.1 291h0M599.8 298.1h0M627.9 252.5h0M687 150.4h0M577.7 338h0M593.4 302.4h0M534.7 405.5h0M940.9 382h0M686.8 149.9h0M804.5 132.1h0M728.3 111.7h0M856.4 227.2h0M884.4 285h0M696.5 148.3h0M764.2 92h0M569.8 353h0M653.3 190.7h0M625.4 255.5h0M663.5 185.2h0M670.6 175.1h0M781.8 111.7h0M674.2 167.6h0M671.6 179.3h0M895.6 307.6h0M531.9 403.9h0M528.8 401.1h0M551.9 392h0M910.8 345.5h0M807.9 143.4h0M849.7 211.7h0M951.7 394.4h0M623.3 252.2h0M935 372.7h0M634.2 242.1h0M756.9 76.7h0M828.9 169h0M880.5 283.3h0M636.7 239.8h0M738.3 78.5h0M546.7 389.8h0M654.3 185.8h0M962 399.6h0M928.4 372.6h0M784.9 112.3h0M875.7 270h0M927.1 365h0M673.8 165.3h0M961.8 399.6h0M725.6 107.2h0M597.1 296h0M761.9 88.2h0M790.1 116.9h0M834.1 182.5h0M824.4 165.9h0M544.9 401.3h0M810.2 148.8h0M935.7 372.5h0M824 160.4h0M959.5 395.1h0M753.6 74.8h0M886.2 287.7h0M588.8 315.5h0M924.1 366.8h0M720.3 124.9h0M915.7 343.8h0M668.9 187.6h0M803.7 143.1h0M902.4 327.9h0M842.3 198.6h0M801.7 129.7h0M957.5 393.7h0M565.6 364.9h0M571.8 346.7h0M771.4 101.6h0M950.4 391.4h0M831.3 181.2h0M664 180.5h0M574.3 346.5h0M725.5 105.2h0M739.7 85.5h0M734.4 97.7h0M801.5 122.1h0M647.6 205.8h0M917.4 350h0M654.5 190.6h0M574 347.7h0M681.4 154.8h0M942 377.6h0M597.3 292.4h0M649.8 205.8h0M937.9 376.9h0M681 155.3h0M900.8 321.3h0M546.7 394.2h0M921 362.1h0M631.9 244.5h0M606.7 280.5h0M856.1 229.8h0M965.8 402.6h0M952.4 397.6h0M860.5 244h0M932.4 374.5h0M964.8 403.5h0M771.9 104.6h0M590.7 307.3h0M903.6 331.1h0M702.3 136.2h0M665.3 184.6h0M748.9 72.6h0M542 401.1h0M534.8 396.7h0M643.9 213.9h0M791.1 111h0M859.2 242.9h0M951.5 398.4h0M889.8 291.1h0M944.4 380.5h0M809 145h0M852.4 223.5h0M787.3 111.7h0M562.7 369.5h0M554 379.2h0M864 245.4h0M616.3 264.3h0M877.2 277.9h0M732.5 98.1h0M529.6 407.8h0M775.8 110.6h0M723.2 117.3h0M559.3 375.4h0M642.4 221h0M662.6 186h0M680 151h0M840.3 190.7h0M600.8 286.4h0M723.3 118.4h0M795.9 116.7h0M946.7 382.8h0M577.6 339.6h0M561.7 376.3h0M611.6 269.6h0M624.4 261.1h0M598.8 289.1h0M560.2 380.2h0M619.5 263.7h0M625.7 253.7h0M739.4 76.6h0M814.1 152h0M688.1 152h0M601.2 290.3h0M568.5 357.2h0M643.3 211.7h0M602.3 286h0M740.1 74h0M913.3 342.7h0M844.6 204.4h0M616.7 265.6h0M542.4 403.4h0M556.5 379.2h0M720 115.4h0M687.9 157.7h0M829.5 171.8h0M563.7 368.7h0M639.5 221.4h0M831 169.6h0M778.7 107.2h0M755.9 74.6h0M926.8 375.4h0M576.8 345.8h0M613.3 265.8h0M777.6 104.6h0M777.5 106.2h0M961.7 398.1h0M960.5 393.3h0M787.2 111.4h0M863.4 243.8h0M836.2 190.8h0M585.5 329.2h0M793.9 121h0M662.3 182.5h0M685.9 158.2h0M595.9 292.5h0M530.2 405.8h0M905.5 337.3h0M844.9 205.5h0M860.5 239.2h0M654.4 199.8h0M711.8 132.4h0M604.7 278.2h0M793.9 105.4h0M899.1 310h0M872.3 256.3h0M941.1 384.2h0M642.1 218.6h0M837.9 192.7h0M582.8 330h0M764.6 95.7h0M575.5 341.1h0M766.4 90.1h0M767.2 89.2h0M680.5 157h0M681.7 152.4h0M842.2 192.2h0M740.1 74.5h0M707.5 129.8h0M576.5 344h0M651.8 188.9h0M902.6 322.1h0M958.1 400.6h0M692.2 151.8h0M913.1 346.5h0M914.4 352.6h0M623.3 255.2h0M648.1 206h0M835.5 190.9h0M662.4 191h0M950.7 394.2h0M688.6 151.9h0M850.7 213.6h0M840.5 198.5h0M621.4 259.9h0M911 336.9h0M672.5 169.3h0M575.4 340.1h0M548.8 393.6h0M727.1 103.8h0M807.5 145.1h0M647 219.2h0M900.3 319.5h0M645.3 220.7h0M902.8 330.7h0M541.2 405.4h0M643.1 215.7h0M597.3 295.9h0M725.3 117.4h0M682.3 156.1h0M701.8 131.9h0M904.6 330.8h0M783.8 116.1h0M795.3 115.9h0M699.7 133.4h0M885.3 287.5h0M749.3 71.3h0M857.7 231.8h0M932.4 366.7h0M798.2 122.4h0M719.7 115.9h0M643.5 224.1h0M931.4 369.2h0M866.1 247.5h0M881.5 281.5h0M624.8 253.6h0M720.4 124.4h0M918.8 348h0M635.7 242.9h0M887.9 289.4h0M765.7 102.5h0M623.6 256.4h0M693.2 152.5h0M560.3 370.3h0M825.3 164.5h0M849.3 211.6h0M539.4 404.5h0M660.3 187.1h0M867.8 254.1h0M615.5 266.5h0M764.9 88.8h0M884.3 285.1h0M779.6 111.4h0M580.8 334.3h0M930.2 376.5h0M858 236.3h0M777.3 105.7h0M674.3 165.4h0M785 109h0M700.3 132.3h0M579.2 335.8h0M580.7 332h0M546.6 391.8h0M602.1 292h0M635.5 240.3h0M808.6 141.4h0M784.1 108.9h0M788.7 107h0M891.5 298.6h0M568.7 354.1h0M699.2 146.3h0M561.7 368.6h0M712.4 131.1h0M561.5 379.9h0M556 378.8h0M572.8 358.4h0M699.6 140.9h0M865.3 251.3h0M651.7 194h0M855.9 233.9h0M630.1 256.1h0M654 193.8h0M735.8 98.9h0M559.8 378.3h0M725.8 96.6h0M785.6 110.6h0M892.6 307h0M551.4 384.4h0M881.7 284.9h0M779.4 106.5h0M783.3 110.4h0M549.2 382.6h0M917.2 341.7h0M649.6 202.6h0M769.1 97.6h0M765.6 88.5h0M930.6 373.4h0M793.5 116h0M966.7 399.7h0M629.6 247.3h0M820.5 162.9h0M782.6 108.9h0M754.5 78h0M805.2 140.3h0M771 100.5h0M676.1 161h0M811.4 150.3h0M563.5 369h0M739.2 73.1h0M727.6 106.9h0M621.2 260h0M778.7 106h0M823.9 165.7h0M582 331.3h0M658.4 188.6h0M554 384.8h0M791.6 108h0M562.8 366.1h0M628.4 252.6h0M725.4 101.3h0M727.1 108.8h0M541.1 398.5h0M947.1 381.9h0M628.6 251.9h0M797.3 111.4h0M625.2 259h0M791 111.4h0M683.1 155.8h0M668 179.4h0M737.1 82.6h0M786.8 107.6h0M792.1 115.4h0M832.2 173.4h0M645.8 210.6h0M567.2 353.1h0M639 230h0M671.6 171.8h0M796.2 117h0M710.5 125.4h0M664.7 185.6h0M570.2 352.6h0M791.4 115.4h0M575.3 343h0M756 75h0M832.1 177.1h0M803.2 125.5h0M597.4 289h0M684.5 153.4h0M944.3 388.5h0M566.8 367.6h0M827.9 167.2h0M720.3 116.9h0M798.9 124h0M701.3 132.9h0M581.5 331.5h0M776.2 107.2h0M529.2 400.6h0M910.1 338.7h0M881.1 285.1h0M692.4 150.4h0M765.1 90.7h0M760.7 89.7h0M961.5 399.4h0M545.9 398.5h0M658.7 187.4h0M707.2 128.9h0M876.1 267.2h0M850.6 220h0M714.5 133.8h0M531.7 404.8h0M814.2 153.4h0M707.1 131.4h0M578.4 337h0M806.7 140.7h0M724 109.1h0M662.5 181.8h0M646 218.6h0M757.7 85.5h0M636.5 233.2h0M701.1 133.6h0M944.7 383.9h0M738.6 78.3h0M639 223.2h0M757.9 78.3h0M933.8 371.3h0M911.1 337h0M827.2 170h0M925.7 360.3h0M862.4 242.2h0M828.5 165h0M716.6 125.9h0M592.8 299.7h0M851.5 223.8h0M808.1 144h0M956.2 389.7h0M669 176.8h0M915.8 347.9h0M623.5 254.3h0M946.6 387.7h0M968.6 402.3h0M547.4 391.3h0M670.6 173.6h0M969.7 403.3h0M956.4 395.5h0M824.3 164.3h0M586.2 319.5h0M529.4 403.4h0M637.2 225.4h0M945.8 392.7h0M883.9 288.3h0M716.8 132.6h0M864.5 246.9h0M927.1 369.4h0M659.7 187.5h0M914.7 346.9h0M646.2 209.6h0M672.4 167.5h0M546.4 394.8h0M597.6 290.6h0M771.1 106.1h0M537.1 403h0M768.8 99.5h0M602 285.9h0M858.9 238.8h0M583.3 336.2h0M618.4 263.3h0M645.9 213h0M785.2 114.2h0M885.5 286.1h0M860.9 242.2h0M855.6 229.1h0M829.2 173.3h0M767.7 94.8h0M678.6 155.3h0M606.4 283.1h0M910 344.3h0M708.2 134.3h0M815.2 150.9h0M556.8 380.6h0M686.7 151.7h0M571.1 353.1h0M683.9 149.4h0M852.1 219.3h0M678 163.3h0M829.4 169.6h0M581.2 325.9h0M697.4 145.6h0M708.6 131.5h0M752.5 71.7h0M627.9 253.2h0M836.7 187.5h0M918.2 355.2h0M887.3 287.3h0M540.2 396.8h0M743.2 72.5h0M679.2 163.1h0M780.8 111.3h0M563.5 373.9h0M850.5 214h0M711.5 131.6h0M945.6 391.6h0M535 401.3h0M712 132.2h0M742.6 78.4h0M895.5 312.2h0M862.3 246h0M607.3 279.4h0M663.1 180.5h0M853.2 221.7h0M712.8 132.1h0M643.3 225.1h0M939.7 380.1h0M900.9 325.2h0M684.3 153.7h0M770.5 98.4h0M939.1 380.5h0M622.7 258.8h0M930.2 367h0M919.2 347.9h0M849.1 213.3h0M831.1 169.5h0M830.7 172.6h0M768.1 93.6h0M785 111.5h0M614.1 268.2h0M776.3 106.8h0M825.3 161.6h0M742.1 78.2h0M828.1 168.3h0M729.9 112.8h0M883.2 281.4h0M846.6 201.7h0M566 367.3h0M868.1 254.7h0M653 188.5h0M562.7 374.3h0M580.3 338.6h0M670.4 181.5h0M759.4 84.6h0M673.1 164.4h0M616.8 261.7h0M868 257.2h0M692.5 151.2h0M914.5 348.8h0M635.1 236.2h0M832.8 176.3h0M685.2 153h0M903.8 322.5h0M813.5 149.9h0M827.8 163.9h0M567.7 357.6h0M860.1 244.5h0M683.9 153.8h0M855.1 226.5h0M901.8 331.5h0M580.8 339.7h0M533.3 401.4h0M863 242h0M956.5 401.8h0M926.3 372.9h0M719.9 115.4h0M896.6 317.2h0M536.9 399.2h0M552.5 383.3h0M784.7 108.7h0M760.7 86.9h0M892.7 298.9h0M630.2 257.4h0M731.9 95.8h0M965.8 402.7h0M660.9 186.6h0M706.1 131.7h0M796.2 115.5h0M968.3 402h0M607.6 282.1h0M833.3 182.7h0M710.4 127.4h0M704.4 130.4h0M640.5 216.4h0M733.1 92.5h0M781.7 107.9h0M700.7 129.6h0M751 73.3h0M808.9 146.3h0M904.7 330.2h0M775.6 104.5h0M696.4 143.7h0M953.4 392.6h0M603.1 288.4h0M546.7 404.4h0M929.8 361h0M644.5 217.2h0M593.8 300.6h0M697.6 141.5h0M678.7 156.1h0M684 149.7h0M904.4 328.3h0M655.5 190.5h0M585.4 326.8h0M622.3 257.7h0M948.2 388.3h0M716.9 135.4h0M686.7 150h0M871.7 256.3h0M941.9 376.7h0M753 72.3h0M888.2 291.8h0M644 216h0M682.1 151.6h0M782.4 107.3h0M631.5 251.8h0M648.7 203.8h0M609.8 276.2h0M643 215h0M899.2 310.9h0M879.4 280.1h0M577.1 335.2h0M681.4 158.3h0M847.2 205.6h0M908.2 337.5h0M775.2 106.6h0M849.1 220.5h0M631.9 250.6h0M873.6 264.4h0M891 292.5h0M707.2 130.5h0M631.2 249.4h0M541.2 403.8h0M806 133.2h0M807.3 141.3h0M527 409.6h0M757.4 77.7h0M943.2 375.8h0M539.3 399.6h0M587.5 317.6h0M552.1 391.1h0M720.3 120.2h0M697.3 146.6h0M912.9 340.6h0M556 379.7h0M615.5 268.7h0M943 379.6h0M534.9 401.9h0M641.6 217.6h0M701.5 134.3h0M526.8 399.4h0M654 186.8h0M794.2 121h0M799.7 124.7h0M796.8 119.4h0M815.5 162.8h0M799.3 128.2h0M541.8 401.7h0M817.2 155.1h0M785.7 110.5h0M623.2 257.6h0M712.8 128.9h0M632 255.5h0M911.9 345h0M650.3 204.8h0M598.8 289h0M880.2 279.8h0M864.4 250.3h0M904.9 331.3h0M827.2 165.5h0M711.6 131.2h0M737.6 80.6h0M773 102.6h0M791.1 111.2h0M946.2 391.4h0M644.3 217.5h0M867.7 250.6h0M534 399.6h0M611 273.9h0M945.8 383.1h0M638 226.2h0M753.4 72.8h0M933.4 368.4h0M817.1 149.6h0M743.4 72.5h0M838.1 191.9h0M960.9 399.6h0M944.4 391.3h0M607 278.4h0M588.7 314h0M654.3 194.3h0M590.9 306.1h0M865.7 253.2h0M896.7 306.6h0M589 310.7h0M559 376.4h0M670.2 180.7h0M831.5 170.4h0M868.5 251.7h0M731 102.5h0M810.2 149.7h0M933.9 371.6h0M917.3 351.7h0M578.8 335.2h0M843.2 206.2h0M871.3 253.8h0M929.3 368.6h0M712.1 128.8h0M595.8 293.5h0M736.9 81.5h0M690.9 154h0M701.3 130.6h0M882.9 287.5h0M815.9 155.9h0M828.5 169.2h0M816.3 153.1h0M589.4 311.6h0M552.4 387.5h0M701.9 129.5h0M903.8 323.7h0M814.5 149.9h0M877.9 273.1h0M802.9 133.7h0M874.7 263.4h0M968.8 406.9h0M843.2 196.2h0M909.1 336.8h0M958.5 398.4h0M855.3 226.1h0M887.5 283h0M561.4 372.3h0M542.7 399.6h0M936.5 372.1h0M632 249.3h0M662.1 180.5h0M586.5 323.3h0M808.2 149.4h0M539.7 403.6h0M881.3 284.8h0M659 188.3h0M856.8 232.1h0M930.9 374.8h0M833 176.6h0M715 130.6h0M804 129.3h0M906.2 335.4h0M842.3 199.8h0M638.5 215.6h0M529.9 401.3h0M917.1 350.7h0M803.3 134.1h0M554.7 382.2h0M771.1 106.4h0M788 109.7h0M656.8 188.8h0M919.9 357.4h0M633 256.5h0M590.4 307.9h0M663.8 188.9h0M676.7 159.4h0M919 344.9h0M818.2 155.7h0M580.6 331.7h0M701.3 138.2h0M572.1 349.4h0M839.8 192.5h0M906.1 333.6h0M568 365.6h0M748.5 71.7h0M635.1 234.6h0M653.1 195.8h0M858.1 234.6h0M960.3 400.8h0M650.3 206.9h0M767.4 96.1h0M664.3 181.1h0M554.1 382.1h0M794 109.8h0M595.5 303.6h0M831.8 183.8h0M858.3 237.6h0M589.7 304.9h0M791.2 109.7h0M619 259.3h0M865.3 245.2h0M653.5 192.7h0M832.7 176h0M814.2 149.9h0M781.9 112h0M623.1 257h0M896.9 304.9h0M684 154.8h0M868.6 250.7h0M737.4 79.6h0M725.4 103.3h0M842.7 201.1h0M677.8 157.2h0M865.5 248.1h0M724 111.3h0M855.3 230.3h0M836.2 189h0M946.2 392.8h0M707.9 128.2h0M681.5 155.7h0M968.2 406.8h0M755.8 76.1h0M712.3 123.6h0M837.6 195h0M637.6 225.6h0M951.7 396.2h0M861.2 244h0M814.7 155h0M656.1 195.8h0M885.8 286.4h0M934.6 376.9h0M877.9 273.1h0M931.6 368h0M567.4 359.4h0M855.6 234.4h0M911.1 337.9h0M737.9 78.3h0M562.1 375.9h0M767.4 94.1h0M634.2 237.1h0M541 395.5h0M942 385.6h0M896 302.1h0M808.2 142.7h0M858.8 240.5h0M824.6 162.4h0M732 99.8h0M580.3 328.6h0M654.7 191.7h0M751.2 70.6h0M784.9 109.9h0M660.4 187.8h0M583 332.4h0M678.5 160.2h0M608.9 273.8h0M939.7 373.5h0M624.6 253.5h0M701.5 137.3h0M767.1 92.2h0M638.5 222.2h0M746.2 73.4h0M771.9 102h0M548.3 388.8h0M947.2 380.5h0M765.4 96.6h0M591.3 304.4h0M962.7 395.8h0M601.2 286h0M849.5 214.2h0M740.7 72.1h0M640.9 220.1h0M695.1 145.2h0M740.2 78.3h0M691.2 151.3h0M636.2 228.2h0M711.2 125.8h0M720 117h0M831.9 171.3h0M614.2 274.3h0M546.7 393.6h0M896.7 311.5h0M557.3 378.9h0M806.9 131.8h0M770.2 103.2h0M959.4 397.4h0M610.8 270h0M920.6 356.3h0M584.4 336h0M602.6 284.9h0M816.8 155.4h0M600.1 287.5h0M786.9 108.7h0M826.2 168.9h0M582.2 332.6h0M877.3 276.6h0M714.4 130.5h0M955.9 388.9h0M531.6 401.7h0M561.4 376.6h0M801.8 129.6h0M640.7 214.4h0M705.3 129.1h0M930 372.4h0M679.2 158.1h0M549.3 391.8h0M590 306.6h0M773.2 104.3h0M870.5 259.5h0M863 245.8h0M735.9 94.2h0M632.9 250h0M583.6 335.1h0M625.6 253.8h0M615.5 266.4h0M929.4 367.1h0M707.5 133.6h0M578.3 342.7h0M809.8 140.4h0M729.5 95.1h0M539.4 401h0M961.5 404h0M946.7 389.3h0M643.1 219.9h0M896.3 311h0M728.6 104.8h0M825.6 165.2h0M816.6 157.5h0M851.5 220.4h0M722.1 113.2h0M591.6 313.4h0M883.6 282.7h0M722 111.9h0M722.8 108.2h0M863.6 248.9h0M830.8 175.3h0M965.6 399.3h0M698.7 138.1h0M808.4 140h0M563.7 364.4h0M576.5 338.6h0M639.6 223h0M650.8 202.5h0M724.6 105.3h0M628.1 253h0M942.1 385.8h0M716.5 131.3h0M696.3 144.6h0M927 364.1h0M879.8 276.7h0M868.5 253.4h0M932.4 370.5h0M853.5 221.9h0M662.2 183h0M953.3 393.1h0M538.6 401.2h0M924.8 367.5h0M712.7 127.1h0M676.4 170.3h0M737.2 90.8h0M704 130.8h0M908.5 338.6h0M884.4 287.6h0M858 234.2h0M629.8 250.2h0M721.8 111.2h0M559.8 373.8h0M856.2 233.5h0M545.2 396h0M702.3 132.8h0M593.6 301h0M904.8 328.5h0M934.3 379.4h0M655 191.3h0M913.8 341.1h0M605.5 277.5h0M842.2 196.3h0M637.8 226.6h0M724.3 110.2h0M797.8 122.5h0M682.4 152.7h0M614.3 270.5h0M787.5 110.8h0M879 276h0M968.6 403.2h0M669.6 177.1h0M640.9 218.4h0M560.4 380h0M617.4 264.9h0M538 399.2h0M637.4 232.3h0M848.8 218.1h0M577.4 336h0M813.5 150.6h0M657.4 193.2h0M628.1 254.9h0M741.2 79.4h0M720.2 124.9h0M724.9 100.1h0M578.7 339.7h0M777.2 103.3h0M927 363.7h0M530.6 399h0M562.5 374.3h0M786.7 106.4h0M667.9 177.5h0M638.4 218.6h0M965.2 407.2h0M663.3 182h0M935.4 374.3h0M800.4 121.1h0M539.9 399.3h0M644.6 221.7h0M560.1 377h0M765.3 89.5h0M929.8 368h0M549.9 388.3h0M538.9 405.8h0M539.5 400.4h0M647.7 211.5h0M600.3 292.6h0M956.4 405.4h0M870.6 257.6h0M943.5 379.4h0M784 108.1h0M891.1 300.6h0M841.2 198.7h0M656.2 186.4h0M816.3 153.9h0M654.9 190.6h0M732.6 94.6h0M891.8 299.2h0M624.5 257.5h0M604.2 287.6h0M904.6 319.5h0M732.2 98.4h0M603.7 283h0M667.6 174.9h0M651.1 203.4h0M924.4 357.6h0M736.4 79.5h0M935.1 380.8h0M735.3 89.6h0M943.6 387.8h0M933.4 377.8h0M778.5 104.6h0M875.6 273.3h0M654 193.1h0M577.8 340.9h0M794.8 119.5h0M551 389.1h0M734.1 90.2h0M801.8 128.6h0M867.3 252.1h0M924.6 369.1h0M617.1 260.7h0M910.8 346.1h0M746.9 71.1h0M803 140.1h0M731.6 100.7h0M902.9 334.6h0M659.7 187.5h0M530.1 406.4h0M894.7 306.7h0M820.3 161.9h0M844.6 205.2h0M581.6 324.7h0M618 260.8h0M804.2 127.1h0M858.2 237.7h0M820.1 160h0M791.1 114.3h0M817.2 158.2h0M592.1 310.2h0M726.6 101.9h0M672.8 172.2h0M853.4 221.7h0M756.2 74.9h0M846.2 200.8h0M835 184.1h0M928.4 365.4h0M906.7 331.7h0M549.4 386.8h0M823 160.7h0M692.3 159.9h0M571.3 350.7h0M738.9 74.6h0M900.9 318.1h0M880.1 281.2h0M573.5 341.5h0M616.3 269.9h0M835.1 180.6h0M956.4 398.8h0M560.8 373.9h0M565.9 360.7h0M835.4 196.8h0M800 122.4h0M886.6 283.7h0M614.5 267.9h0M745.9 71.2h0M882.1 285.6h0M696.3 144.9h0M703.9 128h0M541.1 405.9h0M880.7 281.3h0M724.8 102.1h0M694.3 151.4h0M817.5 159.4h0M905.2 325.2h0M911.1 336.5h0M678.5 156.5h0M796.6 116.4h0M698.5 140.7h0M898.9 314.2h0M878.8 275.4h0M820.3 157.7h0M892.1 296.6h0M752.9 77.3h0M780 106.6h0M598.7 293.1h0M840.8 193.7h0M654.4 194h0M775.9 104.4h0M527.4 403.3h0M703 128.8h0M799.9 121.6h0M806.5 145.5h0M776.8 108.5h0M638.4 219.1h0M817 160.3h0M820.1 159.9h0M788.4 113.5h0M693.9 141h0M594 299.2h0M773.6 102.9h0M549.5 387.2h0M933.3 368.3h0M683.1 159.2h0M652.1 195.5h0M726.6 103.3h0M572.6 342.1h0M919.1 356.6h0M961.4 403.3h0M892 296.5h0M781.3 106.3h0M944.2 387.2h0M673.2 169.3h0M733 90.6h0M602.7 292.7h0M715.1 130.6h0M938.4 373.6h0M821 159.2h0M768.8 101.3h0M764.5 96.5h0M808.5 144h0M797.3 122.6h0M727.4 101.9h0M753.3 81.5h0M571.5 348.9h0M723.4 112.4h0M826.1 166.9h0M625.7 254.4h0M649.5 208.5h0M883.8 287.4h0M586.8 313.5h0M613.3 269.8h0M889.9 294.7h0M580.2 340.6h0M659.9 186.7h0M930.7 372.9h0M709.8 130.9h0M889.5 290.6h0M866 248.7h0M535.4 403.9h0M624 259.4h0M931.4 377.2h0M669.2 176.9h0M705.8 131.4h0M941.5 386.9h0M575.2 355.1h0M957.9 397.3h0M813.6 150.9h0M805.6 143.3h0M526.9 399.9h0M806.5 128.1h0M891.5 300h0M701.5 139h0M559 382.5h0M585.1 333.2h0M560.9 379.9h0M710.8 128.5h0M889.3 292.8h0M552.6 381.2h0M706.7 127.1h0M704.5 130.9h0M703.2 127.8h0M760.4 82.8h0M764.2 89.2h0M617.1 264.4h0M879.2 280.4h0M756.1 74.8h0M682.8 152.2h0M954.6 395.4h0M839.9 195.5h0M598.9 292.6h0M956.8 400.1h0M783.2 110.7h0M677.6 161h0M631.9 251.7h0M556.6 379.3h0M634.8 239.6h0M654.8 189.5h0M679.3 157.3h0M965.2 404.2h0M789.5 108.9h0M611.8 276.1h0M691 149.7h0M718.5 127h0M563.4 378.7h0M734.5 91.4h0M752.2 71.5h0M930.4 371.9h0M718.9 118.6h0M832.3 171.2h0M828.3 171.3h0M604.2 278.5h0M778.3 109.5h0M725.9 102.8h0M598.7 294.7h0M537.1 399.8h0M968.7 407.4h0M566.7 360h0M920.2 343h0M689.2 160.3h0M562.8 371.7h0M954.8 395.6h0M819.7 160.1h0M706.1 130.2h0M898.6 314h0M840.7 193.3h0M711 136.3h0M845.2 202.1h0M854.1 227.2h0M603 289.7h0M844.6 202.7h0M933.5 376.1h0M831.8 171.2h0M881.4 280.7h0M966 399.4h0M880.1 284h0M735.1 95.2h0M776.1 103.9h0M867 253.4h0M807.3 136h0M558 378.9h0M553.2 385.4h0M647.6 201.9h0M889.8 292.6h0M624.9 254.9h0M668.1 173h0M892 300h0M583.7 332.3h0M650.7 201.7h0M640.4 219.1h0M547.5 391.1h0M856.2 227.8h0M668.9 175.3h0M707.5 128.1h0M674.4 164.4h0M555.7 381.3h0M901.6 325.7h0M586.2 325.5h0M653.3 194.9h0M846.5 206.8h0M681.2 157.7h0M751.5 75.8h0M673.1 167.9h0M775.2 104.3h0M667.4 175.5h0M729.2 99.7h0M530.4 400.4h0M533.2 406.7h0M751.6 76.5h0M889.3 286.3h0M969.9 404.5h0M883.1 283.8h0M759.3 79.8h0M812.6 150.1h0M824.6 163.1h0M850.5 217.1h0M966.9 403.2h0M679.1 154.1h0M724.7 116.4h0M872.4 259.3h0M622.4 256.1h0M569.1 349.2h0M925.6 376.7h0M533.6 399.3h0M923.4 361.1h0M932.7 373h0M600 292.4h0M861.8 240.7h0M654.7 185.3h0M646.9 211.6h0M963.2 396.3h0M920.3 352.2h0M865.9 254h0M720.1 114.6h0M964.2 402.8h0M779.8 105.7h0M961.6 408.4h0M846.8 207h0M547.3 395.1h0M880.9 281.8h0M898.6 309h0M917.7 353.7h0M802.7 129.7h0M543.2 396.4h0M911.7 339.5h0M713.9 127.6h0M613.8 269.9h0M619.1 262.4h0M616 265.1h0M888.6 287.6h0M558.8 385h0M934.2 372.1h0M534 404.8h0M847.5 208.2h0M628.9 253.4h0M755.1 73.4h0M605.2 276.5h0M926 363.6h0M595.7 299.6h0M733.8 100.7h0M796.7 123.8h0M727.7 100.4h0M622.5 256.7h0M655.3 188.3h0M941.4 382h0M582.1 336h0M534.3 401.4h0M930 366.9h0M920 354.5h0M830.7 170.5h0M736.1 86.8h0M949.2 390h0M709.9 130.6h0M532.3 399.4h0M719.7 113.8h0M761.5 81.1h0M769.9 100.2h0M920.8 355.1h0M556.6 376.8h0M905.7 340h0M758.4 88.3h0M851.6 223.6h0M710.2 129.8h0M658 188.9h0M675.6 164.1h0M648.4 212.5h0M727.9 110.2h0M791.9 109.1h0M895.4 305.3h0M603.9 278.4h0M726.3 104h0M762.7 92.9h0M889.8 292.5h0M841.8 207.4h0M803.2 134.3h0M825.9 164.6h0M725.5 103.3h0M884.6 285.6h0M898.3 320.9h0M777.9 104.1h0M578.5 334.6h0M715.7 126.8h0M644 214.8h0M611.7 274.7h0M658.2 188.4h0M890.3 291.9h0M680.9 154.7h0M717.3 124.7h0M696.5 149.3h0M608.5 273h0M780.2 104.9h0M711.5 125.9h0M942.3 380.8h0M801.1 127.4h0M960.7 401h0M907.8 337.4h0M744.4 73.1h0M533.8 397h0M621 257.6h0M579.5 337.4h0M854 221.1h0M587.7 315.7h0M812.9 148.1h0M669.7 177.2h0M739.9 74.5h0M862.5 241h0M659 188.1h0M602.7 284.2h0M654.4 195.9h0M945.5 383.8h0M772 101.8h0M654 190.9h0M591.2 304.9h0M556.8 386.1h0M674.8 154.7h0M799.1 125.7h0M729.3 97.2h0M887.1 287.3h0M968.1 398.2h0M779.7 107.9h0M679.7 152.8h0M879.4 281.6h0M565.9 370.8h0M863.7 244h0M918 342.5h0M871.1 259.6h0M570.3 362.8h0M784.5 109.4h0M882.7 280h0M709.2 126.5h0M901.3 325.3h0M600.2 295.3h0M761.3 86.2h0M774.3 101.8h0M876.5 275.8h0M709.4 126.9h0M641.2 216.5h0M842.7 197.2h0M577.2 337.6h0M689.8 153.7h0M734.3 87.7h0M876.3 272.2h0M715.1 132h0M776.1 108.8h0M827.7 171.2h0M826.4 165.1h0M954.3 390.1h0M732.2 97.4h0M780.4 108.4h0M535.1 401.7h0M611.7 271h0M637 230.7h0M620.3 258h0M757 82.8h0M615 274.3h0M779.6 107.7h0M893.2 300.5h0M558.7 379.8h0M634.3 243.4h0M747 73.6h0M547 394.7h0M590.1 308.7h0M781.8 113.1h0M703.9 127.9h0M927.7 373.1h0M779.8 106.1h0M862.6 246.3h0M680.1 152.2h0M693.9 140.1h0M905.4 325.6h0M799.7 120.2h0M932.5 376.9h0M638.6 220.9h0M577.4 337.2h0M827.2 163.9h0M582 332.2h0M560.2 375.7h0M699.8 137.6h0M831.3 168.8h0M686.5 149.9h0M860.9 242.4h0M728.7 106.1h0M653 197.7h0M763.7 87.6h0M794.9 114.2h0M593.1 303.2h0M789.2 108.8h0M601.3 284h0M956.4 397.5h0M762.5 87.4h0M617.7 265h0M545.4 399.7h0M621.8 257.2h0M667.8 174.2h0M781.1 107.1h0M821.1 163.5h0M842.4 199.5h0M722.4 117.3h0M806.3 136h0M772.3 105.3h0M658.1 188.4h0M623.7 255.1h0M703.8 131.4h0M832.7 176h0M586.2 322.5h0M808.9 142.7h0M535.7 403.6h0M608.1 275h0M823.9 159.7h0M885.3 286.4h0M867.1 255.3h0M830 173.4h0M639.3 217h0M965.1 402.3h0M793.3 118.1h0M930.6 373.5h0M942.3 390.9h0M632.5 250.9h0M957.1 389.8h0M562.6 374.4h0M809.5 140.7h0M640.5 216.4h0M568.3 351.1h0M779.3 105.1h0M620.9 258.4h0M875.7 272.5h0M731.4 105.1h0M646.3 216h0M531.7 404.7h0M833.8 178.5h0M809.1 139.8h0M884 288.1h0M696.6 144.3h0M932.7 370.6h0M537 403h0M934.5 370.7h0M866 253.2h0M572 344.4h0M964.8 399.4h0M566.4 361.8h0M860 240.5h0M635 233.1h0M833.3 182.6h0M898.1 314.9h0M578.9 336.8h0M670.6 176.8h0M924 360.1h0M738.5 84.1h0M594.5 296.9h0M565.1 361.8h0M581.1 332.9h0M573.5 345.7h0M685 154.4h0M871.3 258.6h0M727.6 111.8h0M570.2 347.9h0M683.1 149.2h0M741.3 76h0M725.5 113.6h0M811.2 150.7h0M828.7 167.8h0M858.5 237.5h0M764.4 90.3h0M539.8 406h0M868.2 252.5h0M874.2 264.8h0M850.4 212.5h0M720.8 121.7h0M920.3 353h0M569.3 354h0M855.1 227.5h0M791.3 111.3h0M837.4 201.5h0M556.4 381.6h0M956.4 399.4h0M539.9 398.9h0M605 278.2h0M755.9 72.5h0M780.9 107.3h0M605.5 281.3h0M654.1 193.7h0M932.8 367.2h0M669.2 178.7h0M724.2 107.1h0M576 347h0M779.1 106.8h0M837.7 191.2h0M855.4 227.3h0M629.8 250.1h0M690.4 152h0M817.1 158.7h0M958.5 400.8h0M868.3 251.6h0M623.8 254.1h0M555.6 381.6h0M672.2 178.5h0M761.5 86h0M647.3 208.6h0M877.2 273.8h0M640.4 222.2h0M581.5 337.7h0M794 111.6h0M864 248.2h0M617.5 269.5h0M674.7 168.4h0M641.8 215.9h0M539.3 397.5h0M829.7 169.4h0M549.1 396.3h0M798.2 125.6h0M804.9 140.8h0M761.9 86.8h0M545.4 396.9h0M543.1 397.1h0M755.2 77.8h0M744.3 72.7h0M533.4 399.5h0M531.3 400.6h0M869.9 256.5h0M670.6 178.8h0M844.8 206.9h0M614.7 276.7h0M644.4 219.4h0M925.3 361.7h0M614.3 273h0M707.8 128.8h0M747.9 70.8h0M842.6 202.7h0M668.9 174.5h0M814.8 153.4h0M625.2 254.5h0M829 168.1h0M535.9 397.3h0M609.4 277.7h0M553.6 387.1h0M571.8 348.9h0M858.7 242.6h0M732.5 102.3h0M874.3 267.8h0M959.4 404h0M609.1 272.6h0M867.9 254.5h0M958 397.9h0M663.9 186.2h0M560.8 374.8h0M731.5 112.1h0M767.4 103.1h0M832 174.4h0M779.9 109.2h0M660.5 188.1h0M598.6 292.5h0M677.5 163.9h0M734.7 86.8h0M608.9 272.5h0M659.1 193.2h0M919 353.5h0M714.5 127.1h0M582.1 330.4h0M822 159h0M684.1 153.2h0M755.2 72.2h0M700.9 135h0M577.5 340.9h0M853.8 222.6h0M779.1 110.3h0M965.6 403.8h0M528.6 402.7h0M782.8 108.6h0M715.5 124.8h0M719.5 114.6h0M847.3 203.4h0M634.1 241.9h0M704.1 133.9h0M585.7 321.2h0M778.1 107.8h0M720.7 115.6h0M545.4 397h0M628.8 255.1h0M702 136.3h0M762.7 87.1h0M567.7 363.1h0M801.5 126.5h0M889.6 283.4h0M674.3 177.6h0M556.1 379.9h0M591.6 304.6h0M865.3 251.8h0M762.8 91.2h0M586.9 318.5h0M601.1 288.5h0M896.4 310.6h0M828.2 167.1h0M835.4 175.3h0M588.8 314.3h0M966.3 399.1h0M639.2 217.9h0M683.7 153.9h0M630.4 260.5h0M945 381.1h0M806.9 140.1h0M772.2 99.5h0M710.4 126.3h0M844.9 202.7h0M734.5 96.1h0M731.5 99.6h0M593.9 301.3h0M892.2 302.8h0M555.9 381.5h0M929.4 367.5h0M933.4 369.3h0M758.9 82.1h0M599 291.9h0M623.2 256.2h0M588.5 313.9h0M837.7 188.4h0M687.6 150.9h0M962.7 397h0M678 154.9h0M672.9 179.7h0M827 169.6h0M916.5 353.2h0M760.3 85.8h0M580.8 333.7h0M602.3 288.7h0M844 201.1h0M866.5 253h0M966 401.8h0M781 110.5h0M873.7 260h0M826.1 170.7h0M770.6 101.5h0M885.4 287h0M617 263.9h0M594.5 296.7h0M664 185.4h0M697.4 132.8h0M948.1 395.9h0M892.8 297h0M857 236.8h0M922.3 355.2h0M696.7 141.8h0M963.7 400.9h0M929.5 373.2h0M608.7 273.7h0M694.2 149.3h0M663.2 184.7h0M612.2 273.9h0M942.6 379.2h0M699.9 135.2h0M912.4 339.9h0M791.3 110.7h0M553.1 387h0M719 126.5h0M872.8 257.3h0M668.1 176.5h0M656.5 190.5h0M568 354.8h0M737 80.5h0M944.9 381.4h0M534.8 402.7h0M920.2 349.1h0M792.8 118.5h0M651 191.7h0M925.4 368.3h0M938.3 380.3h0M958.6 396.4h0M731.9 91.1h0M710.5 130.7h0M821.6 158.9h0M921.1 360.9h0M681.9 154.4h0M673.9 167.6h0M708 130.9h0M535.8 403.1h0M899.5 314.5h0M729.7 103.5h0M733.7 94.8h0M807.5 137.9h0M885.7 288h0M839.7 200.9h0M674.6 171.3h0M657.3 190.5h0M674.4 169.6h0M762.8 86.3h0M886.5 285.1h0M530 399.5h0M795.2 114.6h0M901.2 324.5h0M775.8 103.9h0M695.7 140.9h0M737 77.7h0M755 73.3h0M804.9 128.1h0M559.8 379.8h0M878.3 277.4h0M771.4 105.3h0M649.5 211.6h0M933 373.9h0M703.5 132.7h0M870.5 256.1h0M658.6 188.3h0M769.9 94.7h0M610.8 273.4h0M648 205.7h0M672.7 167.1h0M590.3 307.5h0M864.2 247.3h0M726.6 108.4h0M680.6 151.9h0M786.3 107.1h0M628.6 256.1h0M720.9 119.2h0M778.6 109.1h0M800 123.8h0M714.1 123.9h0M856.4 236h0M911.4 345.9h0M954.2 393.7h0M775.2 106.4h0M955.1 400.1h0M943.1 395.1h0M817.4 161h0M586.2 326h0M811.2 146h0M762.4 87.1h0M838.4 191.9h0M646.7 209h0M967.4 403.6h0M680.3 155.9h0M970.3 402h0M649.2 201h0M738.6 78.5h0M829.1 167.4h0M641.8 220.2h0M707 128.6h0M820.3 162.7h0M860.7 242.2h0M933.6 380.4h0M771.5 100.3h0M954 402.9h0M651.7 211.7h0M796.9 119.9h0M862.8 250.2h0M563.4 375.9h0M875.9 267.3h0M890.2 290.1h0M776.3 108.9h0M936.6 377.2h0M837.1 193.7h0M689.4 153.8h0M884.7 287.9h0M756.9 78h0M829.8 165.6h0M965.3 399.6h0M835.7 186.7h0M871.7 255h0M888.9 289.4h0M615.5 267.5h0M543.2 398.4h0M560.2 376.2h0M732.8 94.3h0M955.3 400.1h0M724.6 109.8h0M936.7 379.3h0M656.7 187.5h0M589.6 311.8h0M707 129.9h0M901.3 311.1h0M956 404.3h0M765.6 89.6h0M695.3 149.2h0M876.1 273.8h0M715.3 132.4h0M660.6 185.9h0M862.2 238.9h0M563.4 373.6h0M871.4 256.8h0M950.1 395.2h0M572.2 348.5h0M873.7 266h0M536.9 402.6h0M582 331.6h0M656.5 200.1h0M970.2 401.3h0M550 382.4h0M729.1 102.3h0M722.9 115.2h0M605.1 283.7h0M960.7 398.1h0M631.5 249.3h0M926.8 364.2h0M767.6 94.9h0M843.1 203.5h0M856.6 231.6h0M826.1 168h0M885.7 285.8h0M917.8 350h0M589.4 311.2h0M566.1 369.8h0M727.9 104h0M574.3 342.8h0M788.9 110.7h0M944.6 391.3h0M755.1 76.5h0M601.1 285.4h0M578.3 335.8h0M762.7 86.4h0M856.5 236.6h0M884.5 285.6h0M862.1 246.8h0M732.8 101.5h0M915.1 344.8h0M766.6 99.2h0M829.8 169.1h0M527.6 403.2h0M744.3 70.7h0M565 365.8h0M620.9 258.5h0M660.2 185.7h0M781.1 109.1h0M560.5 372.3h0M842.7 199h0M701.7 124.2h0M623.3 256.4h0M950.8 390.4h0M819.9 165.2h0M675.6 163.6h0M581.1 336.3h0M744 70h0M869.1 253.1h0M753.9 71.6h0M664 187.9h0M576.6 344.9h0M625.9 255.1h0M877.4 276h0M597.3 293.4h0M962 399.8h0M850.3 217.8h0M705.5 132.7h0M610.4 273.1h0M733.2 92.3h0M949.4 398.5h0M579.3 334.9h0M634.7 236.7h0M560.6 384.9h0M847.9 211.1h0M948.7 390.1h0M773.7 101.4h0M658.7 187h0M954.4 400.9h0M787.2 109h0M952.8 399h0M692.2 145.9h0M591.1 310.7h0M557.5 379.2h0M645.1 213.1h0M718.9 112.3h0M865.5 252.1h0M734.7 90.3h0M646.1 213h0M926.3 371.2h0M782.7 108.1h0M794.1 121.3h0M890.6 296.1h0M824.4 166.2h0M633.8 246.7h0M949.5 389.5h0M598.1 291.6h0M597.7 294.7h0M814.6 151.5h0M785.2 113.1h0M628.3 255.9h0M838.3 198.6h0M570.6 346.9h0M737.5 92.1h0M947 387.1h0M924.3 360.2h0M794.6 115.2h0M878.7 283h0M820.9 163h0M630 253.5h0M907.7 341.4h0M797.8 126.6h0M791 115.6h0M949.7 396.3h0M774.8 106.1h0M671.2 176.5h0M714 124.5h0M773.2 103.4h0M913.7 336.7h0M900.5 318.1h0M703 132.5h0M743.4 72.6h0M548.7 389.8h0M810.2 149.4h0M882.9 283.6h0M614.3 269.6h0M808.7 150h0M588.7 315.9h0M899 318.6h0M850.8 218.6h0M941.4 384.2h0M652.6 201.4h0M602.1 285.7h0M779.9 109.9h0M552.2 383.2h0M891 293.1h0M617.3 267.2h0M585.7 324.3h0M592.2 296.6h0M838.8 192.2h0M548.4 397.1h0M713.7 125.8h0M607.1 280.2h0M873.1 259.6h0M550.5 383.3h0M613.7 269.3h0M869.2 249.1h0M755.5 81.7h0M577.6 337.9h0M966.1 402.6h0M691.3 151.2h0M712.8 125.2h0M855.8 229.2h0M745.1 76.5h0M894.9 309.3h0M764.4 90.1h0M635.6 232.1h0M764.4 90.8h0M898.9 306.3h0M651 200.2h0M808.7 136.3h0M783.9 108.6h0M834.2 185.4h0M686.4 153.2h0M627.1 252.8h0M821.5 162.4h0M902.9 323.6h0M735.8 86.6h0M587.2 324.5h0M883.4 284.3h0M761 82.4h0M829.5 170.5h0M571.5 347.2h0M874.9 269.5h0M691.9 153.9h0M921.6 356.4h0M636.5 232.6h0M529.2 398.5h0M668.3 172.3h0M847.9 209.7h0M846.1 207.8h0M902.9 332.3h0M620 259.3h0M790.2 108.4h0M558.9 375.5h0M626.2 253.3h0M546.8 395h0M805.7 130.8h0M924.1 366.4h0M793.4 109.5h0M794.1 124.2h0M927.8 367.7h0M672.9 170.6h0M773.7 100.8h0M885.9 286.8h0M612.7 267.1h0M838.7 196.3h0M560.7 373.6h0M690.6 152.5h0M608.6 277.3h0M718.5 125.9h0M617.2 269.4h0M553.7 386.1h0M723.9 114.2h0M699.8 132.9h0M852.4 217.4h0M532.7 403.3h0M808.7 143.7h0M546.2 393.7h0M742.1 74.2h0M535.5 403.6h0M931 373.9h0M743 72.9h0M738.4 75.2h0M558 373.8h0M875.8 268.8h0M644.7 213.9h0M735.3 83.6h0M847.1 212.6h0M877.9 282.3h0M697.9 136.1h0M553.5 385.1h0M964.3 400.5h0M639.8 224.3h0M545.2 397.4h0M801.7 128.3h0M914.3 348.3h0M565.5 368.4h0M546.8 393.1h0M827.1 168.2h0M780.7 107.2h0M641.5 218.4h0M644.2 218.7h0M867.2 252.5h0M535.8 397.6h0M633.3 247.5h0M687.5 149.9h0M870.3 256.1h0M666 182.9h0M550.6 383.1h0M856.6 229.6h0M832.1 177.7h0M583.1 333.1h0M849.7 208.7h0M803.2 135.6h0M689.8 150.2h0M783.2 108.2h0M749.7 72.3h0M878.8 277.2h0M949 391.2h0M677.9 159.5h0M566.6 374.7h0M688.4 155.4h0M792.6 114h0M640.3 220.7h0M595.2 298.7h0M620.6 261.2h0M903.3 322.8h0M843.5 203.4h0M582.3 329.9h0M659.5 187.1h0M646.8 211h0M576.4 345.5h0M899 317.6h0M654.9 185h0M777.3 109.7h0M696.3 143.3h0M557.6 378.8h0M542.7 404.7h0M834.9 181.2h0M805.3 131.6h0M745.1 70.5h0M605.2 278.5h0M677.7 162.5h0M751.6 70.9h0M622.3 255.8h0M782.5 110.5h0M899.3 308.9h0M605.4 279.1h0M939.9 376.3h0M751.9 73.2h0M960.6 397.4h0M956.2 395.3h0M554.9 380.2h0M829.2 162.1h0M634.5 239h0M802.2 122.6h0M921.5 350.7h0M729.9 98h0M816.4 156h0M823 162.8h0M609.9 277.3h0M715.5 127.4h0M655.8 193.3h0M740.9 74.3h0M865.1 247.3h0M590.9 315.1h0M772.1 99.1h0M750.3 75h0M697.4 136.9h0M900.2 320.4h0M682 150.1h0M881.7 284h0M557.9 379.3h0M721.6 104.2h0M574.9 341.8h0M902.5 327h0M821.5 164.5h0M620.8 260.1h0M691.8 148.1h0M583 331.2h0M919.5 346.3h0M922.9 354.8h0M922.7 360h0M795.4 117h0M643.9 219.2h0M728.9 102.1h0M821.7 163.6h0M715.4 126.8h0M552.2 386.6h0M759.6 97.5h0M565.4 361.4h0M630.9 250.5h0M889.3 288.6h0M799 125.2h0M880.4 282.6h0M828.1 164.9h0M818.5 159.1h0M636.3 232.2h0M840.9 196.2h0M582.6 333.5h0M534.6 404.9h0M677.1 162.4h0M596.1 294.7h0M835.1 185.7h0M653.3 203.4h0M541.9 398.4h0M870.8 259.2h0M941.6 378.8h0M842.2 192.7h0M950.6 390.2h0M874.2 264.7h0M939.2 377.6h0M825.3 163.7h0M874.9 264.1h0M879.6 278.1h0M578.3 334.8h0M668.6 174.8h0M800.3 115.9h0M669.2 177.5h0M914 345.4h0M550.6 387.7h0M583.3 335.8h0M672 169.7h0M678.7 157h0M896.2 295.3h0M533.1 401.7h0M893.8 300.3h0M958.3 400.1h0M548.5 394.8h0M949.1 390.4h0M819.7 156.6h0M585.1 329.6h0M895.6 311.2h0M579.4 339.4h0M697 138.9h0M632.4 244h0M697.2 139.8h0M591.2 303.5h0M694.7 135.8h0M779.1 108.1h0M732.6 98.5h0M758.1 84.5h0M923.1 356.2h0M904.6 328.8h0M576.6 337.2h0M852.8 217.3h0M880 282.2h0M930.2 364h0M700.9 132.6h0M936.4 385.2h0M773.7 107.8h0M734.6 93.8h0M752.2 74h0M709.6 129.8h0M832.9 174.9h0M762.6 98.1h0M916.4 346.5h0M734.8 87h0M549.8 391.7h0M596.1 295.1h0M709.8 133.7h0M735.9 83.1h0M887.7 285.9h0M788.7 109.2h0M601.7 292.3h0M660.7 189.9h0M764.6 92.4h0M878.8 279.1h0M841.2 198.4h0M810.8 142.6h0M640 223.6h0M779.8 106.8h0M635.4 236.5h0M555.5 380.2h0M863.3 246.9h0M815.2 152.3h0M965.3 404h0M858.3 238.5h0M638.7 220.3h0M538.9 402h0M717.6 121.9h0M677.5 160.7h0M755.5 79.7h0M692.8 147.1h0M547.8 392.5h0M556.9 379.3h0M685.7 153.5h0M788.1 115.1h0M604.4 283.6h0M606.2 277.1h0M629.5 252.4h0M855.8 229h0M865.8 254.6h0M742.8 73h0M550.7 384.1h0M944 388h0M912.2 340.5h0M660.3 186.3h0M530.4 401h0M744.9 72h0M601.2 286.6h0M695.2 134.6h0M704.1 131.3h0M664.8 184.2h0M932 378.7h0M699.4 136.6h0M576.3 345h0M781.8 107.9h0M920.9 362.2h0M629.2 260.1h0M751.8 73.1h0M694.3 145.2h0M826.4 166.5h0M665.2 187.4h0M639.8 216.6h0M953.1 399.7h0M892.1 293.9h0M838.7 189.4h0M817.9 158.9h0M941.1 384h0M551.9 388.9h0M722.1 121.8h0M803.1 127.4h0M583.7 331.4h0M968.5 404.3h0M831.2 173.3h0M863.6 249.1h0M955.4 396.7h0M783.2 109.6h0M931.9 364.1h0M692.1 143.2h0M935.7 378.1h0M751.7 70.6h0M870.7 257h0M647.1 214.6h0M738 78.8h0M773.5 107.3h0M755.4 74.3h0M936.5 378.2h0M729.4 100.4h0M915.4 341h0M575.8 336.4h0M620 260.4h0M604.5 288.2h0M607.7 281.2h0M786.5 110.8h0M571.7 353.8h0M825.5 167.7h0M913.5 343h0M936.1 380.8h0M551.1 387.5h0M635.9 231.5h0M722.3 128h0M532.9 403.2h0M825.7 165.4h0M728.4 106.3h0M716.1 121.5h0M595.6 293.2h0M557.1 385.5h0M919 354.4h0M792.2 109.4h0M680.3 150.2h0M917.3 348.3h0M578.3 334.9h0M703.1 136.1h0M559 372.8h0M878.8 282.6h0M918.5 346.2h0M652.9 190.3h0M889.8 290.9h0M949 386.4h0M628.8 251.4h0M955.3 394.7h0M675.6 153.2h0M841 192.2h0M764.8 93.1h0M681.6 148.1h0M793.5 109.4h0M526.6 400.4h0M749.3 74.3h0M748.2 74.5h0M808 146.6h0M866.3 248.5h0M917.3 351.9h0M882.5 284.3h0M913.5 339.3h0M693.2 150.6h0M573.5 346.4h0M815.3 151.8h0M546.5 391.5h0M950.3 386.6h0M740.6 77.9h0M640.4 222.6h0M540.3 399.9h0M900.8 316.9h0M896.7 306.3h0M586 328.3h0M869.3 254.8h0M565.3 358.9h0M835.5 186.2h0M763.1 91.4h0M811.1 144.4h0M587.4 316.8h0M878.5 276.5h0M875.9 272.3h0M900.1 314.7h0M705.3 131.1h0M641.5 218.9h0M770.6 106.8h0M836.6 182.2h0M864.1 252.3h0M725.8 100.9h0M796.8 118.8h0M813.4 147.8h0M789.1 110.6h0M845.2 206.4h0M663.9 192.2h0M630.8 255.8h0M654.7 190.2h0M878.1 277.9h0M956.5 397.5h0M667.7 175.9h0M817 158.6h0M784.6 110.2h0M917.4 346.9h0M533.2 399.6h0M802.6 133.4h0M912.7 342.4h0M954.9 400.4h0M711.4 132.5h0M740.3 73.7h0M899.3 303.4h0M941.5 381.4h0M631.3 247.2h0M920.8 349.8h0M579.8 333.4h0M549.3 396h0M541.1 399.8h0M559.9 383.7h0M569.2 359.2h0M630.7 245.3h0M654.4 194.4h0M956.9 402.6h0M882.7 280.7h0M572.5 343.9h0M612.1 271.1h0M834.4 180.2h0M793.1 120.1h0M724.5 105h0M715.5 134.2h0M857.7 231.9h0M744.7 71.8h0M846 207.6h0M531.6 402.8h0M571.1 351.8h0M609 280.5h0M789.5 115.8h0M784.8 114.6h0M912.3 342h0M920.3 358h0M885.2 285.2h0M673.6 176.6h0M552.7 377.5h0M919.5 349.3h0M939.7 378.4h0M537.4 399.9h0M528.2 406.5h0M605.4 277.7h0M686.7 151.1h0M839.9 190.1h0M729 101.1h0M820 158.1h0M887.8 290h0M604.8 285h0M664.1 177.2h0M957.5 391.5h0M766.7 97.8h0M745.3 73.9h0M771.2 98h0M769.5 99.2h0M848.3 207.6h0M912.9 346.2h0M803.6 127.4h0M806.8 136.3h0M783.3 111.4h0M632.6 246.6h0M865.8 251.8h0M614.5 270.4h0M640.8 214.4h0M677.2 160.4h0M759.5 81.5h0M889.8 294.9h0M684.8 157.8h0M794.1 119.8h0M719.7 130.8h0M724.7 112.9h0M955.6 401.9h0M814.1 155.3h0M534.4 403.6h0M910.2 343.3h0M749 72.6h0M954.3 402.5h0M581.8 329.1h0M952.6 389.2h0M817.5 155.1h0M802.4 136.4h0M747.4 71.7h0M955.9 394.3h0M898 307.3h0M759.1 85.9h0M693.1 148.4h0M699 142.8h0M738.7 76.9h0M606.3 282.7h0M630.2 249h0M820.3 162.3h0M868.9 259.7h0M929 368.5h0M596.8 293.7h0M663.7 186.9h0M608.6 273.7h0M804.5 132.3h0M660.5 185.7h0M668.6 177.5h0M556.4 376.3h0M869.8 258.5h0M940.4 380.7h0M587.1 320.8h0M744.1 72.8h0M875.1 266.8h0M912.4 334.4h0M682.5 157.6h0M553 380.7h0M866.7 252.6h0M841.5 197.2h0M702.3 131.9h0M962.9 402h0M844.6 209.6h0M779.7 107.4h0M788.5 108.8h0M562 375.2h0M952.6 386.3h0M966 399.2h0M599.6 287.4h0M867.8 251.7h0M783.7 107.6h0M701.5 136.6h0M788.7 109.5h0M580.3 335.3h0M682 154.1h0M674.5 164.4h0M829 166.2h0M760.9 93h0M538.2 403.3h0M654.5 199.1h0M696.9 141h0M687.7 153.9h0M875.8 271.3h0M894.5 302.7h0M949 391h0M944.2 378.2h0M743.5 72h0M774.5 102.9h0M794.3 111.2h0M751.7 73.4h0M543.4 400.3h0M575.6 344.5h0M880 280.5h0M860.8 245.3h0M664.4 185.8h0M614.3 271.1h0M779 106.5h0M903 333.8h0M551 383.3h0M815.9 149.7h0M626.5 252.2h0M640.2 227.7h0M722.4 113.8h0M599.2 288.9h0M857.3 228.1h0M569.1 354.4h0M746.4 71.2h0M823.2 158.5h0M895 311.2h0M772.2 102.8h0M584.1 337.4h0M885.5 285.9h0M531.7 395.3h0M537.2 396.8h0M527.9 396.5h0M534.3 394.9h0M538 396.8h0M528.4 396.1h0M535.6 395.9h0M531.6 396.4h0M528.3 396.8h0M533.5 395.4h0M530 396.6h0M530.8 395.9h0M537.6 396.9h0M531.5 397.1h0M529.6 396.9h0M531.8 397.2h0M533.9 397.2h0M537.6 394.7h0M532 395.4h0M534.5 396.1h0M531.1 396.2h0M537.8 395.3h0M529.3 396.5h0M534.1 396.9h0M530.4 395.9h0M531.7 410.3h0M527.7 410.7h0M531.2 406.6h0M536.6 412.4h0M530.8 407.5h0M528.9 407.5h0M532.8 408.7h0M528.4 405.9h0M534.2 405.8h0M533.5 406.2h0M535.1 409.2h0M532.1 411h0M530 409.8h0M537.9 406.9h0M526.7 409.9h0M529.7 405.2h0M530.7 408.5h0M530.4 408.7h0M538.3 407.8h0M529.7 405.4h0M536.1 406.6h0M531.4 413.1h0M530.9 405.8h0M534.7 413.3h0M531.8 411.9h0M536 410.1h0M529.3 405.5h0M535.7 410.5h0M531.3 410.8h0M538.1 409.4h0M539 410.7h0M530.3 408.5h0M531 406.2h0M533.3 412.2h0M533.9 411.7h0M532.8 405.3h0M536.2 408.2h0M530.8 412.8h0M533.7 409h0M528 410.4h0M530.9 408.1h0M536.1 411.8h0M527.8 410.5h0M533.6 409.4h0M529.9 411.1h0M550.3 402.5h0M548.9 399.3h0M546.2 403.9h0M548 400.7h0M546.8 405.3h0M548.5 403.3h0M546.4 398.3h0M544.8 402.1h0M544.4 402.8h0M550.7 403h0M547.6 402.9h0M546.5 400.6h0M548.5 401.5h0M546.2 404.2h0M543.4 403.3h0M549.4 403.3h0M545.9 403.8h0M544.7 402.2h0M548 401.6h0M547.2 398.1h0M556.4 370.6h0M557.2 371h0M558.6 372.1h0M557 372.2h0M559.2 369.8h0M564.1 373.5h0M567.3 369.9h0M567.2 377.1h0M564.7 373.5h0M565.2 376h0M568.6 377.5h0M566 373.8h0M567.2 370.3h0M566.6 379h0M565.4 374.5h0M566.8 377.8h0M564.9 371.2h0M570.7 373.2h0M565 377h0M570.4 376.7h0M566.4 378.4h0M564.5 376.8h0M569.1 373.7h0M567.7 375.8h0M570.6 376h0M564.8 377.1h0M568.4 379.4h0M566.3 376.4h0M568.8 372.4h0M570.3 378h0M574.5 366h0M571.9 363.6h0M574.3 367.1h0M573.1 368.3h0M573.4 359.7h0M571.7 365.8h0M572.1 363.3h0M573.2 362.6h0M573.2 365.2h0M574.5 368.5h0M573.5 369.3h0M573.6 369.6h0M572.7 359.3h0M572.3 360.7h0M572.4 363.5h0M606 297.9h0M602.5 298.3h0M602.8 296.1h0M603.6 294.5h0M606 289.9h0M606.4 295.2h0M601.7 293.8h0M605.8 291.2h0M603.5 294.2h0M603 290.4h0M604.1 295.6h0M602.7 297.8h0M604.2 289.5h0M605 292.4h0M616.4 281.3h0M614.6 278.3h0M615.8 276.7h0M615.1 277.4h0M615.3 277.3h0M622.3 268h0M620.8 268h0M620.3 266.7h0M620.7 263.6h0M620.7 269.7h0M622.5 264.5h0M623.5 268.6h0M586.3 340.4h0M584.1 338.3h0M587.2 341.8h0M584.4 337.3h0M584.7 339.7h0M584.6 341.6h0M649.3 217.8h0M650.7 217.3h0M651.2 218.2h0M648 216.3h0M646.1 218.5h0M651.3 223.6h0M643.8 221.6h0M646.3 219.7h0M644.2 223.4h0M646 217.9h0M645.6 221.2h0M650.1 221h0M650.4 224h0M647.3 223h0M660.1 195.4h0M658.2 197.6h0M656 204.8h0M660.7 203h0M657.1 198.5h0M656.9 204.6h0M657.4 200.1h0M659 195.7h0M657.2 203.5h0M656 198.1h0M661.2 197.2h0M657.6 201.6h0M661.6 198.2h0M660.5 199.5h0M686 170.5h0M680 176.7h0M677.5 170.8h0M684.2 177.7h0M685.9 167.8h0M685.1 175.5h0M686.8 172.6h0M681 170.8h0M684.4 169.1h0M679.8 168.4h0M680 176.5h0M680.1 169.9h0M683 176.4h0M688.6 167.6h0M688.1 173.6h0M682.7 171.7h0M690.3 171.7h0M688.7 169.6h0M683.4 169.7h0M681.7 174.3h0M688.7 168.2h0M679.6 168.2h0M688.6 167.5h0M683.3 167.7h0M681.6 167.2h0M681.1 143h0M685.6 140.3h0M682.6 135.1h0M679.5 136.2h0M687.3 134.3h0M686.4 132.1h0M685 132.3h0M685.6 139.6h0M688.3 135.5h0M684.2 144.8h0M685.1 141.6h0M683.3 140.6h0M686.8 135.3h0M688.9 137.4h0M686.9 137.4h0M684.3 139h0M682.8 136.5h0M712.8 121.1h0M698.1 122.1h0M711.4 122.1h0M706.8 121h0M699.9 120.5h0M700.6 119.6h0M706.2 121.4h0M703.5 122.2h0M698.5 121.7h0M697.9 117.7h0M702.5 118.1h0M702.1 120.7h0M707.8 116.4h0M707.1 119.1h0M700.3 116.5h0M704.5 115.2h0M699.4 119h0M713.7 120.4h0M704.4 125.5h0M706 122.7h0M702.4 116.4h0M705.8 116.1h0M704 118.1h0M696.5 121.6h0M703.6 125.3h0M703.1 116.7h0M703.3 120.6h0M699.3 117.6h0M710.4 118.7h0M703.8 115.9h0M704.5 123.1h0M701.5 122.3h0M704 144.2h0M712.5 146.3h0M712.3 148.1h0M713.4 142.6h0M711.1 151.4h0M714.4 141.7h0M704.6 140.5h0M708.2 151h0M714.2 146.3h0M713.6 140.7h0M711.9 138.3h0M714.3 140.5h0M707.6 145.7h0M707.7 150.5h0M713.3 143.2h0M712.1 146.3h0M711.6 143h0M708.9 137.7h0M707 143.3h0M706 142.4h0M711 147.9h0M711.4 138.2h0M714.5 143.2h0M712 137.2h0M732.7 111h0M729.2 113.8h0M732.8 115.5h0M730.6 111.2h0M730.9 120.3h0M731.7 120.3h0M733.6 118.4h0M729.2 113.1h0M729.6 116.5h0M729.8 112.4h0M731.8 115.6h0M731.7 118.1h0M698.8 156.3h0M694.9 157.4h0M690.2 157.6h0M696.6 157.9h0M692.3 157h0M694.7 161.6h0M697.4 162.8h0M693.6 164.8h0M697.5 156.8h0M697.7 162.1h0M697 158.3h0M693.7 160.2h0M693.8 163.5h0M697.6 161.3h0M744.7 93.4h0M748.9 83.9h0M750.4 97h0M751.8 94h0M744.9 91.9h0M747.4 81.1h0M744.8 91.7h0M744.4 92.1h0M745.8 95.1h0M749.4 87.1h0M745.4 97h0M744.5 92.9h0M744.4 92.5h0M748.2 89.3h0M746.7 89.8h0M744 93.1h0M743.7 88.9h0M752.5 91.1h0M747.3 98.9h0M752.1 90.9h0M749.9 95.5h0M745.1 97.1h0M747.1 90.1h0M743.5 89.6h0M748.6 92.7h0M747.7 83.7h0M750.7 85.8h0M750.6 88.7h0M744.1 90.8h0M743.8 94.8h0M748.3 66.4h0M748.8 55.4h0M751.7 57.9h0M751.1 66.9h0M750 67.7h0M751.5 63.2h0M751.6 55.4h0M753.3 64.6h0M751 62.9h0M750.9 64.7h0M750.3 61.9h0M751.5 54.3h0M751.7 56.3h0M751.7 57.8h0M751.7 66.1h0M750.7 64.1h0M748.6 65.6h0M747.5 61h0M748.3 56.5h0M747.7 57.8h0M752.8 60.7h0M753.1 64.8h0M791.4 102.6h0M795.3 103h0M794.3 101.4h0M794.6 103.8h0M793.3 97.9h0M792.3 96h0M790.5 97.5h0M793.5 104.4h0M748.6 95.1h0M749.9 90.4h0M745.3 83.6h0M743.1 88.6h0M748.1 82.5h0M751.8 87.3h0M751.3 89h0M743.8 86.3h0M750.7 95.8h0M752 87.8h0M746.2 83h0M744.5 97.2h0M751.3 95.5h0M751.3 90.2h0M744.9 81.7h0M750 93.3h0M750.6 92.2h0M749.2 90.1h0M751.6 95.3h0M748.5 91.5h0M732.2 117.1h0M727.5 115.5h0M728.5 120.1h0M729.8 111.3h0M732 120h0M727.6 117.9h0M733.4 113.4h0M732.5 113h0M728.7 112.9h0M729.5 119.1h0M770.2 101.5h0M770.1 101.1h0M764 105.9h0M768.6 105.1h0M766.3 112.8h0M765.8 109.6h0M762 105.9h0M762.9 105.1h0M763.3 105.7h0M763.7 109.9h0M767.1 108.8h0M769.1 104.5h0M765.4 105.7h0M767.8 113.6h0M769.9 111.7h0M767.1 107.4h0M765.3 104.9h0M769.6 105.6h0M770.5 107.3h0M769.8 107.9h0M768.3 105.2h0M769.6 101.1h0M770.6 101h0M766.3 107.2h0M764.5 112.9h0M784.7 114.6h0M784.2 117.4h0M782.2 113.8h0M782.4 113.7h0M783.4 114.6h0M785.8 116h0M782.1 116.6h0M783.9 117h0M799.5 114.9h0M799.7 118.4h0M803.2 113.5h0M801.5 112.3h0M802.6 114h0M802.3 113.8h0M805.8 122.8h0M806.7 129.1h0M805.7 120.8h0M806.1 130.9h0M806.3 124.2h0M807.1 128.8h0M806.9 135.2h0M807.7 125.8h0M807.1 126.6h0M807.4 124h0M806.9 126.2h0M808.9 126.6h0M806.6 132.7h0M805.3 128.8h0M817.3 147.5h0M820.9 145.3h0M818.9 144.9h0M817.9 145.5h0M820.5 144.7h0M821.2 144.6h0M819.1 150.5h0M820.9 150.3h0M825.3 158.7h0M826.4 162.2h0M830 159.1h0M826.8 158.8h0M827.2 161.2h0M827.1 159.1h0M829.8 159.9h0M830.2 158.7h0M819.7 178.7h0M821.5 172.9h0M827.4 175.6h0M827.6 174.2h0M823.2 175.2h0M824.6 174.9h0M820.8 178.3h0M821.3 169.4h0M823.4 175.7h0M821.4 177.9h0M820.4 170.9h0M821.6 180.3h0M823.4 180.8h0M828 175.6h0M825.8 175h0M823.7 180.3h0M826.6 178.1h0M820 170.8h0M825.1 170.5h0M820.4 173.9h0M820.9 174h0M825.5 178.5h0M833.9 192.4h0M833.6 190.3h0M834.2 190.8h0M833.9 194.5h0M833.8 189.3h0M900.8 298.2h0M901.3 301.3h0M899.3 297.7h0M900.5 299h0M898.8 301.3h0M897.6 300h0M899.9 303h0M898.9 302h0M904.5 309.7h0M904.1 309.1h0M905.2 308.4h0M905.2 311.4h0M905.6 308.5h0M902.9 310.7h0M904.2 313.6h0M903.9 306.2h0M904.4 307.3h0M903.1 309.2h0M910 322.6h0M910.1 325.2h0M909.1 319.7h0M909.2 326.7h0M910.9 320.6h0M911 324.1h0M907.1 323.3h0M909.7 319.8h0M908.9 323.6h0M907.1 325.1h0M889.3 301.2h0M890.3 302.2h0M890.6 307.5h0M889.3 307.2h0M890.1 306.9h0M891.2 299.3h0M889.3 303.2h0M891.7 302.2h0M895.7 313.9h0M896.5 321.1h0M896.4 316.2h0M895.2 320.6h0M896.2 316.9h0M896.5 321.2h0M895.9 316.8h0M896.1 314.7h0M901.7 335.7h0M899.7 329.9h0M901.4 337.9h0M900.1 331.7h0M899.6 332.4h0M899 334.8h0M931 364.2h0M931.1 361.1h0M929.9 363.2h0M930.3 360.5h0M935.2 363.6h0M934.9 361.8h0M933.4 358.6h0M929.1 358.4h0M936.1 359.7h0M934.1 365.3h0M930.4 358.9h0M934.2 356.8h0M930.2 359.2h0M934 362.5h0M929.3 360.1h0M932.4 358h0M916.1 357.2h0M912.6 358.3h0M915.8 353.3h0M914.2 359.2h0M914.3 356.2h0M916.4 352.4h0M912.9 357h0M916.2 357h0M915.5 354.3h0M914.5 355.6h0M917 358.2h0M914.7 362.4h0M930.8 360.7h0M933.1 365.3h0M940.5 360.5h0M930 359.4h0M932.2 359.9h0M937.1 359.6h0M934.3 358.3h0M932 360.4h0M939.7 359h0M931.7 360.8h0M933.7 363.2h0M940 362.3h0M939.2 359.8h0M935.6 362.7h0M930 361.5h0M935.2 366.8h0M938.4 360.4h0M932 362.3h0M934.9 366.1h0M935.2 360.1h0M930.8 359.1h0M932.9 365.9h0M964.5 391.4h0M960.9 388.3h0M961.8 391.1h0M958.4 391.5h0M965.2 391.4h0M959.9 390h0M966.1 391.2h0M964.7 388.5h0M959.2 389.2h0M959.6 393.8h0M965.2 392h0M957.6 392h0M958.1 391.7h0M965.6 388.2h0M963.8 392.9h0M959.6 389.5h0M962.8 392.4h0M958.5 393.1h0M963.3 393.8h0M956.5 389.6h0M956.6 388.7h0M958.8 393.6h0M965.1 391.3h0M964.6 393.2h0M964.2 389.4h0M923.1 368.2h0M928.1 376.3h0M925.2 369.8h0M929.1 369.3h0M923.8 376.8h0M928.2 369.4h0M931.7 371h0M927.8 374.7h0M921.6 370.2h0M923.4 374.7h0M931.5 371.7h0M918.2 372.2h0M918.6 373.9h0M930.6 372.9h0M926.1 376.1h0M926.1 368.1h0M928.6 367.5h0M926.1 368.2h0M924.9 371.8h0M928.3 368.3h0M929.3 370h0M929.6 375.2h0M929.6 370.6h0M923.8 376.2h0M921.2 367.4h0M933.6 386.3h0M944.9 390.3h0M945.7 389.9h0M935.8 390.4h0M939.6 384.5h0M942.4 389.7h0M938.1 388.6h0M944.7 386.2h0M943 383.7h0M939.1 391.8h0M945.8 392.8h0M938.4 393.5h0M937.9 387.8h0M940.4 389.5h0M945.5 392.2h0M933 388.5h0M940.8 389.5h0M933.9 385.3h0M941.9 387.2h0M938.7 392.4h0M941.1 392.1h0M933.4 387.5h0M940.6 394.8h0M942.5 389.6h0M943.3 391.1h0M934.5 389.7h0M939 384.8h0M940.5 394.4h0M935.4 389.9h0M943.2 388.8h0M943.3 390.9h0M942.8 386.4h0M944.9 387h0M943.4 393.1h0M947.7 387.3h0M966.6 412.1h0M965 413.9h0M962.9 410.8h0M966.5 412.3h0M967.8 409.5h0M964.5 411.2h0M959.9 413.6h0M963.5 409.8h0M962.6 406.2h0M958.9 412.4h0M953.8 411.4h0M955.9 411.6h0M968.5 409.3h0M955.4 407h0M956.5 410.2h0M960.6 412.4h0M961.3 407.9h0M965.9 407.6h0M954.2 408.1h0M958.9 406h0M968.3 408.3h0M960.5 412.7h0M958.9 413.5h0M966.9 412.8h0M958.3 410.9h0M956.2 407.9h0M961.4 406h0M963.3 413.3h0M965.7 412.7h0M958.9 414h0M959.9 410.1h0M963.2 408.8h0M968.5 409.8h0M961.6 413.3h0M961.8 413.2h0M609.2 252.2h0M663.4 264.4h0M532.4 382.8h0M532.4 386.8h0M747.6 50h0M545 388h0M549 383h0M552 379h0M547 386h0M557 371h0M559 370h0M569 344h0M581.5 353.5h0M582 344h0M530 416h0M537 413h0M542 409h0M579 326h0M570 344h0M602 278h0M597 288h0M607 269h0M612 263h0M611 285h0M629 257h0M652 181h0M651 186h0M658 176h0M668 169h0M638 213h0M635 220h0M631 233h0M624 248h0M669.6 183h0M669 189.6h0M689.6 179h0M655 215h0M673 158h0M704.5 111.3h0M726 78.5h0M726 82h0M725 100h0M708 152h0M727.5 130.2h0M746.4 100.4h0M752 102h0M762 98h0M762 102h0M697.5 125h0M696 131.5h0M686.5 135h0M720 135h0M740 68h0M726 79h0M725 83h0M733 77h0M729 89h0M761 77.5h0M766.5 77h0M767.5 81.5h0M785.5 89.3h0M791.5 91.2h0M797 94.5h0M793 98h0M791.5 103h0M746.6 99.4h0M752 102.6h0M727 130.4h0M771.5 124.3h0M763 102.5h0M803.5 118.5h0M791 102h0M796 109h0M819 143h0M829 158h0M840.5 170h0M840.5 175h0M799 141h0M798 135h0M805 148h0M811 158h0M814.5 172.4h0M842 188h0M844 198h0M834 194h0M841 210h0M850 228h0M863 257h0M867 263h0M848 201h0M851 209h0M863 229h0M865 237h0M870 244h0M877 257h0M882 274h0M888 281h0M890 285h0M842 211h0M849 229h0M863.5 229h0M883 274h0M889 283h0M897 301h0M907 311h0M909 321h0M918 332h0M917 340h0M924 352h0M884 300h0M883 294h0M894 324.5h0M894 329h0M894 333.5h0M893 317h0M905.4 348h0M905.4 356h0M903 340h0M907.5 310.5h0M906 355.5h0M905.5 348h0M905 342.5h0M918.5 332h0M906 346h0M906 356h0M912 355h0M934 355h0M949 378h0M950 383h0M959.6 360.5h0M959.6 365.5h0M959.6 369.5h0M958.5 378h0M962.5 381h0M945.6 401h0M950.4 411h0M964 417h0M966.5 390h0M949.5 380h0M949.5 385h0M933 388.5h0M941 368h0" stroke="#000" stroke-width="5.56" stroke-linecap="round" fill="none"/>
<path d="M82.4 402.5L86 401.5L90 401.1L94 400.9L96.5 400.6L98.5 399.8L100 398.3L101.5 396.3L103 394L105 390.5L107 386.5L109 383L111 380.5L113 379L115 377.5L117 375L119 371L121 366L123 361L125 355.5L127.5 350L130 345.5L132.5 341L135 336.5L137.5 333L140 330.5L141.5 327L142.5 322L143.5 318L145 313L147 307L149 302L151 297.5L153 293.5L155 290.5L157.5 287L160 283L162.5 279L165 275L168 271.5L171 268.5L174.5 263L177 259L180 256L183 254L186 251.5L188 248L189.5 244L190.5 240L191.5 235L192.5 230L193.5 226.5L195 222L197.5 218.5L200 216L202.5 212L204.5 207L206 202L207.5 197L209.5 193L212 191L215 189L217.5 185.5L220 182.5L222.5 179.5L224 177L227 173.5L229.5 169L231 164L233 159.5L235.5 156L238 154L241 153.5L244 153L247 151.5L249.5 148L252 143.5L254 139.5L256 135L259 131.8L262 131L265 130.5L268 130L271 128L273.5 123.5L275.5 119L277.5 115L279.5 111L282 106L284.5 102L287 98.5L289 95L290.5 89.5L292.5 82.5L294.5 77.8L297 75L300 73L303 72L306 71.5L308.5 72L311 74.5L313 78.5L315 83L317.5 87L320 90.5L323 94.5L325 98.5L328 102.5L331 105L334 106.5L336.5 108L339.3 110.1L341 109.3L343.5 109.6L346.3 110.7L349 113.3L351 116.5L353 120L355.5 124L357.5 128L359 131.5L361 135L363 139L365 143L367 146.5L369 150L371 153.5L373.5 157.5L376 160.5L379 163.5L381.5 165.5L384 167.5L386.5 170L388 174L389 178L390.5 183L392 187.5L394 191.5L396 195L398 198.5L400 202.5L401.5 205L403 209L405 213L407 217.5L409 222L410.5 226.5L412 231L413.5 235.5L415 239.5L417 243L419.5 246.5L422 250L425 254L427.5 257L429.5 261.5L431 266.5L432 271L433.5 276L435.5 280.5L438 283.5L441 285.5L444 288L446 291L447.5 296L449 300L451 305.5L453 310L455 313L456.5 318L458 322.5L459.5 326.5L461 330L462.5 334L465 338L468 342L471 345.5L474 349.5L476.5 354L478.5 358.5L480 362.5L481.5 365.8L484 368.5L487 370.5L490 373L493 376L496 379.5L499 383L501.5 386.5L504 390L507 393L510 395.5L514 398L518 400L523 401.7L526.5 402.5L530 401.5L534 401.1L538 400.9L540.5 400.6L542.5 399.8L544 398.3L545.5 396.3L547 394L549 390.5L551 386.5L553 383L555 380.5L557 379L559 377.5L561 375L563 371L565 366L567 361L569 355.5L571.5 350L574 345.5L576.5 341L579 336.5L581.5 333L584 330.5L585.5 327L586.5 322L587.5 318L589 313L591 307L593 302L595 297.5L597 293.5L599 290.5L601.5 287L604 283L606.5 279L609 275L612 271.5L615 268.5L618.5 263L621 259L624 256L627 254L630 251.5L632 248L633.5 244L634.5 240L635.5 235L636.5 230L637.5 226.5L639 222L641.5 218.5L644 216L646.5 212L648.5 207L650 202L651.5 197L653.5 193L656 191L659 189L661.5 185.5L664 182.5L666.5 179.5L668 177L671 173.5L673.5 169L675 164L677 159.5L679.5 156L682 154L685 153.5L688 153L691 151.5L693.5 148L696 143.5L698 139.5L700 135L703 131.8L706 131L709 130.5L712 130L715 128L717.5 123.5L719.5 119L721.5 115L723.5 111L726 106L728.5 102L731 98.5L733 95L734.5 89.5L736.5 82.5L738.5 77.8L741 75L744 73L747 72L750 71.5L752.5 72L755 74.5L757 78.5L759 83L761.5 87L764 90.5L767 94.5L769 98.5L772 102.5L775 105L778 106.5L780.5 108L783.3 110.1L785 109.3L787.5 109.6L790.3 110.7L793 113.3L795 116.5L797 120L799.5 124L801.5 128L803 131.5L805 135L807 139L809 143L811 146.5L813 150L815 153.5L817.5 157.5L820 160.5L823 163.5L825.5 165.5L828 167.5L830.5 170L832 174L833 178L834.5 183L836 187.5L838 191.5L840 195L842 198.5L844 202.5L845.5 205L847 209L849 213L851 217.5L853 222L854.5 226.5L856 231L857.5 235.5L859 239.5L861 243L863.5 246.5L866 250L869 254L871.5 257L873.5 261.5L875 266.5L876 271L877.5 276L879.5 280.5L882 283.5L885 285.5L888 288L890 291L891.5 296L893 300L895 305.5L897 310L899 313L900.5 318L902 322.5L903.5 326.5L905 330L906.5 334L909 338L912 342L915 345.5L918 349.5L920.5 354L922.5 358.5L924 362.5L925.5 365.8L928 368.5L931 370.5L934 373L937 376L940 379.5L943 383L945.5 386.5L948 390L951 393L954 395.5L958 398L962 400L967 401.7L970.5 402.5" stroke="#f00" stroke-width="5.56" stroke-linejoin="round" stroke-linecap="square" fill="none"/>
</g>
<path d="M82.5 442.5v4.86M193.5 442.5v4.86M304.5 442.5v4.86M415.5 442.5v4.86M526.5 442.5v4.86M637.5 442.5v4.86M748.5 442.5v4.86M859.5 442.5v4.86M970.5 442.5v4.86M82.5 45.5h-4.86M82.5 108.5h-4.86M82.5 171.5h-4.86M82.5 234.5h-4.86M82.5 297.5h-4.86M82.5 361.5h-4.86M82.5 424.5h-4.86" stroke="#000" stroke-width="1.06" fill="none"/>
<rect x="82.5" y="37.5" width="888.0" height="405.0" fill="none" stroke="#000" stroke-width="1.06"/>
<g id="txt">
<text x="81.9" y="462.1" font-size="14.4" text-anchor="middle" textLength="29.7" lengthAdjust="spacingAndGlyphs">0.00</text>
<text x="192.9" y="462.1" font-size="14.4" text-anchor="middle" textLength="29.7" lengthAdjust="spacingAndGlyphs">0.25</text>
<text x="303.9" y="462.1" font-size="14.4" text-anchor="middle" textLength="29.7" lengthAdjust="spacingAndGlyphs">0.50</text>
<text x="414.9" y="462.1" font-size="14.4" text-anchor="middle" textLength="29.7" lengthAdjust="spacingAndGlyphs">0.75</text>
<text x="525.9" y="462.1" font-size="14.4" text-anchor="middle" textLength="29.7" lengthAdjust="spacingAndGlyphs">1.00</text>
<text x="636.9" y="462.1" font-size="14.4" text-anchor="middle" textLength="29.7" lengthAdjust="spacingAndGlyphs">1.25</text>
<text x="747.9" y="462.1" font-size="14.4" text-anchor="middle" textLength="29.7" lengthAdjust="spacingAndGlyphs">1.50</text>
<text x="858.9" y="462.1" font-size="14.4" text-anchor="middle" textLength="29.7" lengthAdjust="spacingAndGlyphs">1.75</text>
<text x="969.9" y="462.1" font-size="14.4" text-anchor="middle" textLength="29.7" lengthAdjust="spacingAndGlyphs">2.00</text>
<text x="72" y="50.5" font-size="14.4" text-anchor="end" textLength="32.2" lengthAdjust="spacingAndGlyphs">−0.3</text>
<text x="72" y="113.5" font-size="14.4" text-anchor="end" textLength="32.2" lengthAdjust="spacingAndGlyphs">−0.2</text>
<text x="72" y="176.5" font-size="14.4" text-anchor="end" textLength="32.2" lengthAdjust="spacingAndGlyphs">−0.1</text>
<text x="72" y="239.5" font-size="14.4" text-anchor="end" textLength="21.6" lengthAdjust="spacingAndGlyphs">0.0</text>
<text x="72" y="302.5" font-size="14.4" text-anchor="end" textLength="21.6" lengthAdjust="spacingAndGlyphs">0.1</text>
<text x="72" y="366.5" font-size="14.4" text-anchor="end" textLength="21.6" lengthAdjust="spacingAndGlyphs">0.2</text>
<text x="72" y="429.5" font-size="14.4" text-anchor="end" textLength="21.6" lengthAdjust="spacingAndGlyphs">0.3</text>
<text x="525.3" y="482" font-size="14.4" text-anchor="middle" textLength="41.2" lengthAdjust="spacingAndGlyphs">Phase</text>
<text transform="translate(26.8 240.6) rotate(-90)" font-size="14.4" text-anchor="middle" textLength="86.4" lengthAdjust="spacingAndGlyphs">Δ Magnitude</text>
<text x="408.84" y="29.1" font-size="17.2" textLength="41.29" lengthAdjust="spacingAndGlyphs">Light</text>
<text x="454.78" y="29.1" font-size="17.2" textLength="47.52" lengthAdjust="spacingAndGlyphs">curve</text>
<text x="506.63" y="29.1" font-size="17.2" textLength="16.83" lengthAdjust="spacingAndGlyphs">of</text>
<text x="528.62" y="29.1" font-size="17.2" textLength="45.28" lengthAdjust="spacingAndGlyphs">ASCC</text>
<text x="580.11" y="29.1" font-size="17.2" textLength="61.32" lengthAdjust="spacingAndGlyphs">764621</text>
</g>
</svg>
</body></html>
